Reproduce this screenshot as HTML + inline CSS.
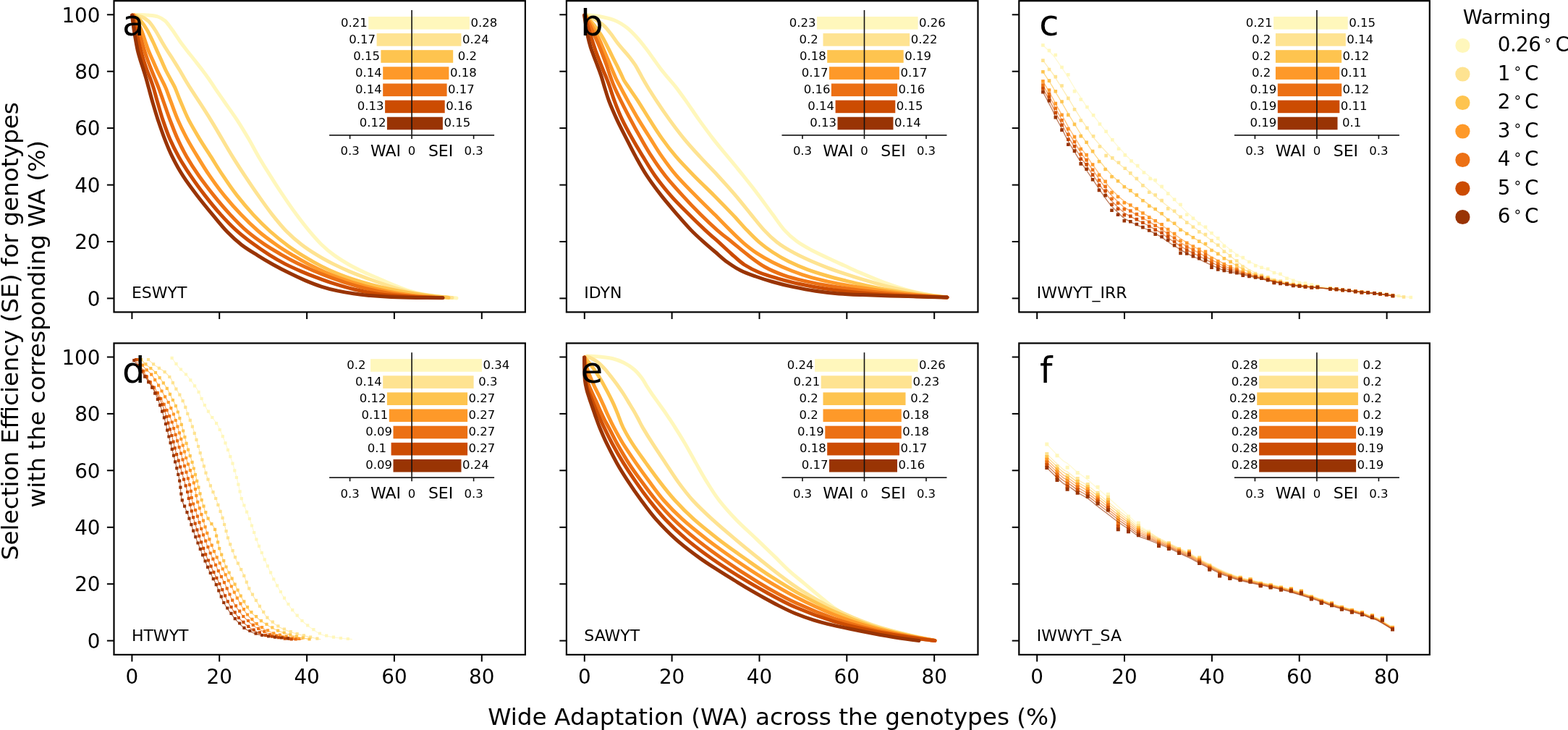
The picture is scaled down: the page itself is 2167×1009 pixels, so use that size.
<!DOCTYPE html>
<html><head><meta charset="utf-8"><title>Selection efficiency vs wide adaptation</title>
<style>html,body{margin:0;padding:0;background:#fff;overflow:hidden}svg{display:block}</style>
</head><body>
<svg width="2167" height="1009" viewBox="0 0 2167 1009" font-family="'DejaVu Sans', 'Liberation Sans', sans-serif">
<rect width="2167" height="1009" fill="#fff"/>
<g>
<clipPath id="cpa"><rect x="157.5" y="1.2" width="568.4" height="430.2"/></clipPath>
<g clip-path="url(#cpa)" fill="none" stroke-linejoin="round" stroke-linecap="round">
<path d="M189.9,20.5 C192.4,20.6 200.2,20.7 204.9,21.1 C209.6,21.5 214.2,21.7 218.1,23.0 C222.0,24.3 224.9,25.8 228.3,28.9 C231.6,32.0 234.7,36.9 238.2,41.6 C241.7,46.4 245.7,52.8 249.0,57.5 C252.4,62.2 255.2,65.8 258.4,70.0 C261.7,74.2 264.8,77.9 268.4,82.5 C272.0,87.1 276.6,92.9 280.1,97.5 C283.6,102.1 286.3,105.9 289.2,110.0 C292.0,114.1 293.7,116.9 297.1,121.9 C300.5,127.0 304.8,133.0 309.8,140.2 C314.8,147.4 321.7,156.8 327.3,165.4 C332.9,173.9 338.4,183.1 343.4,191.6 C348.4,200.1 352.3,207.9 357.3,216.4 C362.3,224.9 367.7,233.7 373.4,242.7 C379.0,251.7 385.3,261.4 391.4,270.4 C397.4,279.4 403.7,288.5 409.7,296.6 C415.7,304.7 421.6,312.4 427.3,319.2 C433.0,326.0 438.2,332.1 444.0,337.7 C449.8,343.3 455.5,348.2 462.0,352.9 C468.4,357.6 475.8,362.0 482.7,366.0 C489.6,369.9 497.0,373.4 503.5,376.5 C510.0,379.5 515.3,381.5 521.5,384.2 C527.7,386.9 533.0,389.6 540.6,392.6 C548.2,395.7 557.3,399.8 567.0,402.5 C576.7,405.3 588.3,407.6 599.0,409.1 C609.7,410.7 625.7,411.5 631.0,412.0" stroke="#fff7bc" stroke-width="5.0"/>
<path d="M188.0,21.0 C189.4,21.4 193.6,22.1 196.5,23.5 C199.4,24.9 202.5,26.5 205.5,29.6 C208.5,32.7 211.7,37.4 214.7,42.0 C217.7,46.6 220.9,52.8 223.6,57.5 C226.3,62.2 228.5,65.8 231.2,70.0 C233.8,74.2 236.4,77.9 239.3,82.5 C242.2,87.1 245.8,92.9 248.6,97.5 C251.3,102.1 253.4,105.9 255.8,110.0 C258.3,114.1 259.9,116.9 263.1,121.9 C266.3,127.0 270.3,133.0 275.0,140.2 C279.6,147.4 285.8,156.8 291.0,165.4 C296.3,173.9 301.6,183.1 306.6,191.6 C311.6,200.1 316.1,207.9 321.3,216.4 C326.6,224.9 332.3,233.7 338.2,242.7 C344.2,251.7 350.7,261.4 357.1,270.4 C363.4,279.4 369.8,288.5 376.2,296.6 C382.6,304.7 388.8,312.4 395.4,319.2 C402.1,326.0 409.1,332.1 416.3,337.7 C423.4,343.3 431.0,348.1 438.4,352.6 C445.8,357.2 453.2,361.1 460.6,364.9 C468.0,368.6 474.9,371.8 482.7,375.1 C490.6,378.4 498.7,381.5 507.6,384.8 C516.6,388.1 526.6,391.7 536.5,394.9 C546.4,398.0 556.8,401.3 567.0,403.6 C577.2,406.0 587.8,407.7 597.5,409.0 C607.2,410.3 620.4,411.1 625.0,411.5" stroke="#fee391" stroke-width="5.0"/>
<path d="M186.0,21.0 C187.3,22.2 191.1,24.8 194.0,28.2 C196.9,31.7 200.4,36.6 203.3,41.5 C206.2,46.4 209.0,52.8 211.3,57.5 C213.6,62.2 215.1,65.8 216.9,70.0 C218.8,74.2 220.5,77.9 222.6,82.5 C224.6,87.1 227.1,92.9 229.3,97.5 C231.6,102.1 233.8,105.9 235.9,110.0 C238.1,114.1 239.9,116.9 242.2,121.9 C244.4,127.0 246.4,133.0 249.5,140.2 C252.6,147.4 256.3,156.8 260.6,165.4 C265.0,173.9 270.5,183.1 275.6,191.6 C280.7,200.1 286.0,207.9 291.4,216.4 C296.8,224.9 302.0,233.7 308.1,242.7 C314.1,251.7 320.7,261.4 327.7,270.4 C334.7,279.4 342.3,288.3 349.9,296.6 C357.6,304.9 365.5,312.8 373.6,320.0 C381.7,327.2 390.3,334.0 398.3,339.9 C406.3,345.8 414.2,350.7 421.8,355.4 C429.4,360.1 436.6,364.1 444.0,367.9 C451.4,371.7 458.7,375.1 466.1,378.1 C473.5,381.2 480.7,383.7 488.3,386.1 C495.9,388.6 503.5,390.9 511.8,393.1 C520.0,395.3 528.6,397.4 537.9,399.4 C547.1,401.4 557.3,403.3 567.0,404.9 C576.7,406.6 587.4,408.0 596.2,409.1 C605.1,410.2 616.0,411.1 620.0,411.5" stroke="#fec44f" stroke-width="5.0"/>
<path d="M185.0,21.0 C186.6,24.2 192.1,34.2 194.8,40.2 C197.4,46.3 199.1,52.5 200.9,57.5 C202.6,62.5 203.6,65.8 205.2,70.0 C206.9,74.2 208.7,77.9 210.7,82.5 C212.7,87.1 215.2,92.9 217.3,97.5 C219.5,102.1 221.5,105.9 223.5,110.0 C225.5,114.1 227.1,116.9 229.2,121.9 C231.3,127.0 233.3,133.0 236.0,140.2 C238.8,147.4 241.9,156.8 245.7,165.4 C249.4,173.9 253.9,183.1 258.4,191.6 C263.0,200.1 267.7,207.9 272.9,216.4 C278.0,224.9 283.3,233.7 289.5,242.7 C295.7,251.7 302.7,261.4 310.0,270.4 C317.3,279.4 325.2,288.4 333.1,296.6 C340.9,304.8 348.9,312.5 357.0,319.5 C365.1,326.4 373.7,332.6 381.7,338.2 C389.7,343.9 397.6,348.6 405.2,353.2 C412.8,357.8 420.0,361.8 427.4,365.7 C434.8,369.5 442.1,373.0 449.5,376.2 C456.9,379.4 463.3,382.1 471.6,385.0 C479.9,388.0 488.7,391.0 499.3,393.9 C509.9,396.9 523.2,400.2 535.0,402.6 C546.7,405.0 558.7,406.9 569.5,408.3 C580.3,409.7 594.9,410.6 600.0,411.0" stroke="#fe9929" stroke-width="5.0"/>
<path d="M184.0,21.0 C185.1,24.2 188.7,34.2 190.7,40.2 C192.6,46.3 194.4,52.5 195.9,57.5 C197.4,62.5 198.3,65.8 199.6,70.0 C200.9,74.2 202.2,77.9 203.9,82.5 C205.5,87.1 207.8,92.9 209.6,97.5 C211.4,102.1 213.0,105.9 214.7,110.0 C216.3,114.1 217.5,116.9 219.4,121.9 C221.3,127.0 223.4,133.0 225.9,140.2 C228.5,147.4 231.6,156.8 234.8,165.4 C238.1,173.9 241.4,183.1 245.3,191.6 C249.1,200.1 253.0,207.9 257.9,216.4 C262.8,224.9 268.4,233.7 274.7,242.7 C281.0,251.7 288.4,261.4 295.6,270.4 C302.8,279.4 310.5,288.5 318.1,296.6 C325.7,304.7 333.1,312.4 340.9,319.2 C348.7,326.0 357.1,332.0 365.0,337.4 C373.0,342.9 381.0,347.4 388.6,351.8 C396.2,356.2 403.3,360.1 410.7,363.8 C418.1,367.4 425.5,370.8 432.9,374.0 C440.3,377.2 447.6,380.1 455.0,382.9 C462.4,385.6 469.1,388.1 477.2,390.6 C485.2,393.1 493.6,395.7 503.4,398.1 C513.3,400.5 525.3,403.2 536.3,405.1 C547.3,407.0 558.9,408.4 569.5,409.5 C580.1,410.5 594.9,411.2 600.0,411.5" stroke="#ec7014" stroke-width="5.0"/>
<path d="M183.0,21.0 C183.7,24.2 185.9,34.2 187.3,40.2 C188.7,46.3 190.3,52.5 191.5,57.5 C192.7,62.5 193.5,65.8 194.6,70.0 C195.7,74.2 196.8,77.9 198.2,82.5 C199.6,87.1 201.6,92.9 203.3,97.5 C205.0,102.1 206.7,105.9 208.2,110.0 C209.7,114.1 210.7,116.9 212.3,121.9 C213.8,127.0 215.3,133.0 217.4,140.2 C219.5,147.4 222.0,156.7 224.9,165.4 C227.8,174.0 231.0,183.4 234.7,192.1 C238.5,200.8 242.6,208.9 247.4,217.4 C252.2,225.9 257.6,234.4 263.6,243.2 C269.6,252.0 276.5,261.5 283.4,270.4 C290.3,279.3 297.8,288.6 305.1,296.6 C312.3,304.6 319.4,312.0 326.8,318.6 C334.2,325.3 341.7,331.0 349.3,336.6 C356.8,342.2 364.5,347.4 372.0,352.1 C379.5,356.8 386.7,361.0 394.1,364.9 C401.5,368.7 408.9,371.9 416.3,375.1 C423.7,378.3 430.8,381.1 438.4,383.9 C446.0,386.8 453.4,389.6 462.0,392.2 C470.5,394.9 480.4,397.8 489.7,400.0 C498.9,402.2 508.4,404.1 517.3,405.5 C526.2,407.0 533.5,407.8 543.1,408.6 C552.7,409.5 563.5,410.0 575.0,410.5 C586.5,411.0 605.8,411.3 612.0,411.5" stroke="#cc4c02" stroke-width="5.0"/>
<path d="M182.5,21.0 C182.9,24.2 184.1,34.2 185.0,40.2 C185.9,46.3 187.0,52.5 187.9,57.5 C188.8,62.5 189.4,65.8 190.3,70.0 C191.3,74.2 192.4,77.9 193.8,82.5 C195.2,87.1 197.2,92.9 198.6,97.5 C200.0,102.1 201.2,105.9 202.4,110.0 C203.5,114.1 204.2,116.9 205.6,121.9 C207.0,127.0 208.5,133.0 210.6,140.2 C212.7,147.4 215.4,156.8 218.2,165.4 C221.1,174.0 224.2,183.3 227.5,191.8 C230.8,200.4 234.0,208.4 238.2,216.9 C242.4,225.4 247.0,234.0 252.8,242.9 C258.5,251.9 265.7,261.4 272.6,270.4 C279.5,279.4 287.2,288.8 294.1,297.1 C301.1,305.5 307.5,313.6 314.1,320.5 C320.8,327.4 327.1,333.1 333.9,338.5 C340.8,343.8 348.1,348.1 355.4,352.6 C362.6,357.2 370.1,361.6 377.5,365.7 C384.9,369.8 392.3,373.7 399.7,377.3 C407.1,381.0 414.4,384.4 421.8,387.6 C429.2,390.7 436.6,393.7 444.0,396.1 C451.4,398.5 458.7,400.3 466.1,401.9 C473.5,403.5 480.7,404.7 488.3,405.8 C495.9,406.9 503.1,407.8 511.8,408.6 C520.5,409.4 529.8,410.0 540.4,410.4 C550.9,410.9 563.1,411.2 575.0,411.4 C586.9,411.6 605.8,411.7 612.0,411.8" stroke="#993404" stroke-width="5.0"/>
</g>
<rect x="509.2" y="23.0" width="139.7" height="17.6" fill="#fff7bc"/>
<text x="507.8" y="36.5" font-size="16.5" text-anchor="end">0.21</text>
<text x="650.4" y="36.5" font-size="16.5">0.28</text>
<rect x="520.6" y="46.1" width="116.9" height="17.6" fill="#fee391"/>
<text x="519.1" y="59.6" font-size="16.5" text-anchor="end">0.17</text>
<text x="639.0" y="59.6" font-size="16.5">0.24</text>
<rect x="526.4" y="69.2" width="99.8" height="17.6" fill="#fec44f"/>
<text x="524.9" y="82.7" font-size="16.5" text-anchor="end">0.15</text>
<text x="632.8" y="82.7" font-size="16.5">0.2</text>
<rect x="529.2" y="92.3" width="91.2" height="17.6" fill="#fe9929"/>
<text x="527.7" y="105.8" font-size="16.5" text-anchor="end">0.14</text>
<text x="621.9" y="105.8" font-size="16.5">0.18</text>
<rect x="529.2" y="115.5" width="88.4" height="17.6" fill="#ec7014"/>
<text x="527.7" y="129.0" font-size="16.5" text-anchor="end">0.14</text>
<text x="619.1" y="129.0" font-size="16.5">0.17</text>
<rect x="532.1" y="138.6" width="82.6" height="17.6" fill="#cc4c02"/>
<text x="530.6" y="152.1" font-size="16.5" text-anchor="end">0.13</text>
<text x="616.2" y="152.1" font-size="16.5">0.16</text>
<rect x="534.9" y="161.7" width="77.0" height="17.6" fill="#993404"/>
<text x="533.4" y="175.2" font-size="16.5" text-anchor="end">0.12</text>
<text x="613.4" y="175.2" font-size="16.5">0.15</text>
<line x1="569.1" y1="14.0" x2="569.1" y2="186.89999999999998" stroke="#111" stroke-width="1.6"/>
<line x1="455.1" y1="186.89999999999998" x2="683.1" y2="186.89999999999998" stroke="#222" stroke-width="1.6"/>
<line x1="483.6" y1="186.89999999999998" x2="483.6" y2="192.09999999999997" stroke="#111" stroke-width="1.6"/>
<text x="483.6" y="214.3" font-size="16.5" text-anchor="middle">0.3</text>
<line x1="569.1" y1="186.89999999999998" x2="569.1" y2="192.09999999999997" stroke="#111" stroke-width="1.6"/>
<text x="569.1" y="214.3" font-size="16.5" text-anchor="middle">0</text>
<line x1="654.6" y1="186.89999999999998" x2="654.6" y2="192.09999999999997" stroke="#111" stroke-width="1.6"/>
<text x="654.6" y="214.3" font-size="16.5" text-anchor="middle">0.3</text>
<text x="511.9" y="215.8" font-size="22">WAI</text>
<text x="591.9" y="215.8" font-size="22">SEI</text>
<text x="169" y="48.5" font-size="49.5">a</text>
<text x="181.9" y="412.4" font-size="22">ESWYT</text>
<rect x="157.5" y="1.2" width="568.4" height="430.2" fill="none" stroke="#000" stroke-width="2.2"/>
<line x1="147.9" y1="412.4" x2="157.5" y2="412.4" stroke="#000" stroke-width="2"/>
<text x="138.5" y="422.6" font-size="27.8" text-anchor="end">0</text>
<line x1="147.9" y1="334.0" x2="157.5" y2="334.0" stroke="#000" stroke-width="2"/>
<text x="138.5" y="344.2" font-size="27.8" text-anchor="end">20</text>
<line x1="147.9" y1="255.6" x2="157.5" y2="255.6" stroke="#000" stroke-width="2"/>
<text x="138.5" y="265.8" font-size="27.8" text-anchor="end">40</text>
<line x1="147.9" y1="177.1" x2="157.5" y2="177.1" stroke="#000" stroke-width="2"/>
<text x="138.5" y="187.3" font-size="27.8" text-anchor="end">60</text>
<line x1="147.9" y1="98.7" x2="157.5" y2="98.7" stroke="#000" stroke-width="2"/>
<text x="138.5" y="108.9" font-size="27.8" text-anchor="end">80</text>
<line x1="147.9" y1="20.3" x2="157.5" y2="20.3" stroke="#000" stroke-width="2"/>
<text x="138.5" y="30.5" font-size="27.8" text-anchor="end">100</text>
<line x1="182.4" y1="431.4" x2="182.4" y2="441.0" stroke="#000" stroke-width="2"/>
<line x1="303.2" y1="431.4" x2="303.2" y2="441.0" stroke="#000" stroke-width="2"/>
<line x1="424.1" y1="431.4" x2="424.1" y2="441.0" stroke="#000" stroke-width="2"/>
<line x1="544.9" y1="431.4" x2="544.9" y2="441.0" stroke="#000" stroke-width="2"/>
<line x1="665.8" y1="431.4" x2="665.8" y2="441.0" stroke="#000" stroke-width="2"/>
</g>
<g>
<clipPath id="cpb"><rect x="782.9" y="1.2" width="568.6" height="430.2"/></clipPath>
<g clip-path="url(#cpb)" fill="none" stroke-linejoin="round" stroke-linecap="round">
<path d="M810.0,20.5 C813.6,20.9 824.7,21.8 831.5,23.2 C838.4,24.5 845.0,26.2 850.9,28.8 C856.8,31.4 862.1,35.0 867.0,38.8 C871.8,42.6 876.1,47.3 880.2,51.8 C884.4,56.4 888.2,61.2 891.9,66.0 C895.6,70.7 899.0,75.6 902.4,80.4 C905.8,85.1 909.0,89.7 912.4,94.2 C915.8,98.7 919.2,102.7 922.9,107.2 C926.6,111.7 930.3,115.6 934.6,121.1 C938.8,126.6 943.2,132.7 948.5,140.1 C953.7,147.5 959.8,156.8 965.9,165.4 C972.1,174.0 978.7,183.1 985.3,191.6 C991.9,200.1 998.6,207.9 1005.6,216.4 C1012.6,224.9 1020.0,233.7 1027.2,242.7 C1034.4,251.7 1042.0,261.4 1048.8,270.4 C1055.6,279.4 1062.1,288.7 1068.0,296.6 C1073.9,304.5 1078.4,311.7 1083.9,317.8 C1089.4,323.9 1094.6,328.6 1100.9,333.3 C1107.2,338.0 1114.5,341.9 1121.6,345.8 C1128.8,349.6 1136.3,353.0 1143.8,356.5 C1151.2,360.0 1158.3,363.2 1166.2,366.8 C1174.1,370.3 1181.9,374.0 1191.1,377.9 C1200.2,381.8 1210.4,386.3 1221.0,390.1 C1231.7,394.0 1244.2,398.3 1255.0,401.2 C1265.8,404.2 1277.0,406.4 1286.0,408.0 C1295.0,409.6 1305.2,410.5 1309.0,411.0" stroke="#fff7bc" stroke-width="5.0"/>
<path d="M810.0,21.0 C812.3,22.1 819.9,25.4 824.1,27.9 C828.2,30.3 831.6,32.7 835.0,35.8 C838.4,39.0 841.3,43.0 844.3,46.8 C847.2,50.6 850.0,55.0 852.9,58.7 C855.7,62.4 858.6,65.6 861.4,69.0 C864.3,72.3 867.3,75.5 870.0,79.0 C872.7,82.4 875.4,86.2 877.8,89.7 C880.1,93.3 881.9,96.9 883.8,100.3 C885.7,103.7 887.0,106.5 889.1,110.1 C891.1,113.7 892.9,116.7 896.0,121.7 C899.2,126.7 902.9,132.8 907.8,140.1 C912.6,147.4 919.0,156.8 925.2,165.4 C931.4,174.0 938.2,183.1 945.2,191.6 C952.1,200.1 959.3,207.9 967.1,216.4 C974.9,224.9 983.8,233.7 992.1,242.7 C1000.3,251.7 1009.1,261.4 1016.7,270.4 C1024.4,279.4 1031.6,288.6 1038.1,296.6 C1044.6,304.6 1050.1,311.8 1056.0,318.1 C1061.8,324.4 1067.1,329.5 1073.5,334.4 C1079.8,339.3 1086.6,343.5 1094.0,347.7 C1101.3,351.9 1109.2,355.6 1117.5,359.3 C1125.8,363.1 1135.2,366.8 1143.8,370.1 C1152.4,373.4 1160.5,376.1 1169.0,378.9 C1177.5,381.8 1184.8,384.1 1195.0,387.1 C1205.1,390.1 1217.3,393.8 1229.8,396.8 C1242.3,399.8 1256.5,402.9 1269.8,405.2 C1283.0,407.6 1302.5,410.0 1309.0,411.0" stroke="#fee391" stroke-width="5.0"/>
<path d="M809.0,21.0 C811.0,23.3 817.6,30.3 821.3,35.0 C825.0,39.6 828.3,44.3 831.2,49.0 C834.1,53.6 836.4,58.3 838.7,62.9 C841.1,67.5 843.2,72.0 845.4,76.4 C847.6,80.8 850.0,85.4 852.0,89.4 C854.1,93.5 855.9,97.4 857.6,100.9 C859.3,104.4 860.1,106.9 862.0,110.4 C864.0,113.8 866.2,116.8 869.5,121.7 C872.8,126.7 877.3,132.8 882.0,140.1 C886.7,147.4 892.3,156.8 897.8,165.4 C903.3,174.0 908.9,183.1 915.0,191.6 C921.0,200.1 926.9,207.9 934.2,216.4 C941.5,224.9 950.1,233.7 958.9,242.7 C967.7,251.7 978.1,261.4 987.1,270.4 C996.1,279.4 1005.0,288.6 1012.6,296.6 C1020.2,304.6 1026.5,312.2 1032.7,318.6 C1038.9,325.1 1043.9,330.2 1049.7,335.2 C1055.5,340.2 1061.0,344.2 1067.7,348.5 C1074.4,352.9 1081.7,357.3 1089.8,361.3 C1097.9,365.3 1107.1,369.3 1116.1,372.6 C1125.1,376.0 1135.0,378.9 1143.8,381.5 C1152.6,384.1 1160.5,386.0 1169.0,388.1 C1177.5,390.2 1184.8,392.0 1195.0,394.2 C1205.1,396.4 1217.3,399.1 1229.8,401.3 C1242.3,403.4 1256.5,405.6 1269.8,407.2 C1283.0,408.9 1302.5,410.4 1309.0,411.0" stroke="#fec44f" stroke-width="5.0"/>
<path d="M809.0,21.0 C810.5,23.5 815.2,30.6 818.2,35.8 C821.2,40.9 824.3,46.6 826.9,52.0 C829.6,57.3 831.8,62.8 834.0,67.9 C836.2,72.9 838.1,77.6 840.1,82.3 C842.1,87.0 844.0,91.7 846.0,96.2 C847.9,100.7 849.5,104.7 851.5,109.0 C853.6,113.3 855.4,116.5 858.2,121.7 C860.9,126.9 864.1,132.8 868.1,140.1 C872.2,147.4 877.4,156.8 882.5,165.4 C887.7,174.0 893.5,183.1 898.9,191.6 C904.3,200.1 908.8,207.9 914.8,216.4 C920.8,224.9 927.0,233.7 934.8,242.7 C942.5,251.7 952.5,261.4 961.4,270.4 C970.2,279.4 979.7,288.6 987.7,296.6 C995.7,304.6 1002.8,312.1 1009.5,318.6 C1016.1,325.2 1021.5,330.6 1027.5,335.8 C1033.5,340.9 1038.8,345.2 1045.5,349.6 C1052.2,354.1 1059.6,358.3 1067.7,362.4 C1075.8,366.5 1085.0,370.7 1094.0,374.3 C1103.0,377.8 1111.9,380.9 1121.6,383.7 C1131.4,386.4 1141.0,388.6 1152.3,390.9 C1163.6,393.2 1176.5,395.4 1189.4,397.5 C1202.3,399.6 1216.4,401.7 1229.8,403.5 C1243.2,405.3 1256.5,406.8 1269.8,408.0 C1283.0,409.2 1302.5,410.5 1309.0,411.0" stroke="#fe9929" stroke-width="5.0"/>
<path d="M808.5,21.0 C809.7,23.5 813.1,30.8 815.4,35.8 C817.8,40.8 820.3,46.2 822.5,51.1 C824.8,56.1 826.9,60.8 828.8,65.4 C830.7,70.0 832.3,74.2 834.0,78.7 C835.7,83.2 837.4,87.7 839.0,92.2 C840.6,96.8 842.0,101.3 843.7,106.1 C845.4,110.8 846.8,115.1 849.3,120.8 C851.8,126.5 854.8,132.7 858.5,140.1 C862.2,147.5 866.9,156.8 871.5,165.4 C876.0,174.0 881.0,183.1 885.9,191.6 C890.8,200.1 895.1,207.9 900.7,216.4 C906.2,224.9 912.2,233.7 919.3,242.7 C926.4,251.7 935.2,261.4 943.4,270.4 C951.5,279.4 960.4,288.7 968.3,296.6 C976.2,304.5 983.7,311.5 990.9,317.8 C998.1,324.2 1004.7,329.0 1011.8,334.7 C1018.8,340.4 1025.6,346.4 1033.1,352.1 C1040.5,357.8 1048.3,364.0 1056.6,368.7 C1064.9,373.4 1073.7,377.1 1082.9,380.3 C1092.1,383.6 1101.3,385.9 1112.0,388.4 C1122.6,390.9 1134.2,393.2 1146.8,395.3 C1159.5,397.4 1174.2,399.5 1188.0,401.3 C1201.9,403.0 1216.2,404.5 1229.8,405.7 C1243.4,407.0 1256.5,407.9 1269.8,408.8 C1283.0,409.6 1302.5,410.6 1309.0,411.0" stroke="#ec7014" stroke-width="5.0"/>
<path d="M808.0,21.0 C808.7,23.6 810.8,30.9 812.4,36.3 C814.0,41.8 815.9,48.0 817.7,53.6 C819.5,59.3 821.4,65.1 823.2,70.4 C825.1,75.6 827.0,80.4 828.8,85.0 C830.6,89.7 832.4,94.0 834.0,98.1 C835.7,102.2 837.2,105.6 838.8,109.6 C840.3,113.5 841.5,116.6 843.2,121.7 C845.0,126.8 846.6,132.8 849.4,140.1 C852.1,147.4 855.8,156.8 859.9,165.4 C864.0,174.0 869.0,183.1 873.8,191.6 C878.5,200.1 883.3,207.9 888.5,216.4 C893.7,224.9 898.7,233.7 905.1,242.7 C911.5,251.7 919.1,261.4 927.0,270.4 C934.8,279.4 944.3,288.6 952.3,296.6 C960.2,304.6 967.7,311.7 974.6,318.1 C981.4,324.5 987.4,329.5 993.5,334.9 C999.5,340.4 1005.0,345.8 1010.9,351.0 C1016.8,356.2 1022.4,361.7 1028.9,366.0 C1035.4,370.2 1042.1,373.6 1049.7,376.8 C1057.3,379.9 1065.3,382.1 1074.6,384.8 C1083.8,387.4 1093.7,390.1 1105.0,392.5 C1116.4,395.0 1129.1,397.4 1142.7,399.4 C1156.3,401.5 1172.2,403.2 1186.7,404.6 C1201.2,406.0 1216.0,407.0 1229.8,407.8 C1243.6,408.7 1256.5,409.2 1269.8,409.8 C1283.0,410.3 1302.5,410.8 1309.0,411.0" stroke="#cc4c02" stroke-width="5.0"/>
<path d="M807.5,21.0 C807.9,23.5 809.1,30.8 809.9,35.8 C810.7,40.7 811.4,45.9 812.4,50.6 C813.4,55.3 814.5,59.4 815.8,63.7 C817.0,68.0 818.6,72.0 820.2,76.4 C821.8,80.8 823.7,85.3 825.4,90.0 C827.2,94.6 829.0,99.3 830.7,104.4 C832.4,109.4 833.6,114.3 835.4,120.2 C837.3,126.2 839.0,132.6 841.8,140.1 C844.7,147.6 848.7,156.8 852.6,165.4 C856.6,174.0 861.4,183.1 865.7,191.6 C870.0,200.1 873.8,207.9 878.5,216.4 C883.2,224.9 887.9,233.7 893.8,242.7 C899.7,251.7 907.0,261.4 914.0,270.4 C921.0,279.4 929.1,288.6 935.9,296.6 C942.8,304.6 949.1,311.8 955.1,318.1 C961.2,324.4 966.5,329.1 972.1,334.1 C977.7,339.2 983.2,343.8 988.8,348.5 C994.3,353.3 999.6,358.4 1005.4,362.6 C1011.2,366.8 1016.9,370.5 1023.4,373.7 C1029.8,377.0 1036.7,379.4 1044.1,382.0 C1051.5,384.7 1059.1,387.1 1067.7,389.5 C1076.2,391.9 1085.5,394.3 1095.4,396.4 C1105.3,398.5 1116.5,400.7 1127.2,402.2 C1137.9,403.8 1148.5,405.0 1159.3,405.9 C1170.1,406.7 1180.5,407.1 1192.2,407.6 C1204.0,408.1 1216.9,408.5 1229.8,408.9 C1242.7,409.3 1256.5,409.6 1269.8,410.0 C1283.0,410.4 1302.5,410.8 1309.0,411.0" stroke="#993404" stroke-width="5.0"/>
</g>
<rect x="1129.0" y="23.0" width="139.6" height="17.6" fill="#fff7bc"/>
<text x="1127.5" y="36.5" font-size="16.5" text-anchor="end">0.23</text>
<text x="1270.1" y="36.5" font-size="16.5">0.26</text>
<rect x="1137.5" y="46.1" width="119.7" height="17.6" fill="#fee391"/>
<text x="1130.8" y="59.6" font-size="16.5" text-anchor="end">0.2</text>
<text x="1258.7" y="59.6" font-size="16.5">0.22</text>
<rect x="1143.2" y="69.2" width="105.5" height="17.6" fill="#fec44f"/>
<text x="1141.7" y="82.7" font-size="16.5" text-anchor="end">0.18</text>
<text x="1250.2" y="82.7" font-size="16.5">0.19</text>
<rect x="1146.0" y="92.3" width="96.9" height="17.6" fill="#fe9929"/>
<text x="1144.5" y="105.8" font-size="16.5" text-anchor="end">0.17</text>
<text x="1244.5" y="105.8" font-size="16.5">0.17</text>
<rect x="1148.9" y="115.5" width="91.2" height="17.6" fill="#ec7014"/>
<text x="1147.4" y="129.0" font-size="16.5" text-anchor="end">0.16</text>
<text x="1241.6" y="129.0" font-size="16.5">0.16</text>
<rect x="1154.6" y="138.6" width="82.7" height="17.6" fill="#cc4c02"/>
<text x="1153.1" y="152.1" font-size="16.5" text-anchor="end">0.14</text>
<text x="1238.8" y="152.1" font-size="16.5">0.15</text>
<rect x="1157.5" y="161.7" width="77.0" height="17.6" fill="#993404"/>
<text x="1156.0" y="175.2" font-size="16.5" text-anchor="end">0.13</text>
<text x="1235.9" y="175.2" font-size="16.5">0.14</text>
<line x1="1194.5" y1="14.0" x2="1194.5" y2="186.89999999999998" stroke="#111" stroke-width="1.6"/>
<line x1="1080.5" y1="186.89999999999998" x2="1308.5" y2="186.89999999999998" stroke="#222" stroke-width="1.6"/>
<line x1="1109.0" y1="186.89999999999998" x2="1109.0" y2="192.09999999999997" stroke="#111" stroke-width="1.6"/>
<text x="1109.0" y="214.3" font-size="16.5" text-anchor="middle">0.3</text>
<line x1="1194.5" y1="186.89999999999998" x2="1194.5" y2="192.09999999999997" stroke="#111" stroke-width="1.6"/>
<text x="1194.5" y="214.3" font-size="16.5" text-anchor="middle">0</text>
<line x1="1280.0" y1="186.89999999999998" x2="1280.0" y2="192.09999999999997" stroke="#111" stroke-width="1.6"/>
<text x="1280.0" y="214.3" font-size="16.5" text-anchor="middle">0.3</text>
<text x="1137.3" y="215.8" font-size="22">WAI</text>
<text x="1217.3" y="215.8" font-size="22">SEI</text>
<text x="802.3" y="48.5" font-size="49.5">b</text>
<text x="807.3" y="412.4" font-size="22">IDYN</text>
<rect x="782.9" y="1.2" width="568.6" height="430.2" fill="none" stroke="#000" stroke-width="2.2"/>
<line x1="773.3" y1="412.4" x2="782.9" y2="412.4" stroke="#000" stroke-width="2"/>
<line x1="773.3" y1="334.0" x2="782.9" y2="334.0" stroke="#000" stroke-width="2"/>
<line x1="773.3" y1="255.6" x2="782.9" y2="255.6" stroke="#000" stroke-width="2"/>
<line x1="773.3" y1="177.1" x2="782.9" y2="177.1" stroke="#000" stroke-width="2"/>
<line x1="773.3" y1="98.7" x2="782.9" y2="98.7" stroke="#000" stroke-width="2"/>
<line x1="773.3" y1="20.3" x2="782.9" y2="20.3" stroke="#000" stroke-width="2"/>
<line x1="807.8" y1="431.4" x2="807.8" y2="441.0" stroke="#000" stroke-width="2"/>
<line x1="928.6" y1="431.4" x2="928.6" y2="441.0" stroke="#000" stroke-width="2"/>
<line x1="1049.5" y1="431.4" x2="1049.5" y2="441.0" stroke="#000" stroke-width="2"/>
<line x1="1170.3" y1="431.4" x2="1170.3" y2="441.0" stroke="#000" stroke-width="2"/>
<line x1="1291.2" y1="431.4" x2="1291.2" y2="441.0" stroke="#000" stroke-width="2"/>
</g>
<g>
<clipPath id="cpc"><rect x="1408.3" y="1.2" width="567.5" height="430.2"/></clipPath>
<g clip-path="url(#cpc)" fill="none" stroke-linejoin="round" stroke-linecap="round">
<path d="M1441.4,62.5 C1443.6,64.6 1451.5,72.3 1454.4,75.3 C1457.3,78.4 1456.6,77.9 1458.8,80.9 C1461.0,84.0 1464.6,89.3 1467.5,93.6 C1470.4,98.0 1473.3,102.5 1476.3,107.2 C1479.2,111.8 1482.1,116.9 1485.0,121.6 C1487.9,126.2 1490.8,130.3 1493.7,134.8 C1496.6,139.3 1499.5,144.3 1502.4,148.5 C1505.3,152.6 1508.2,155.9 1511.1,159.6 C1514.0,163.3 1517.0,167.0 1519.9,170.8 C1522.8,174.5 1525.7,178.5 1528.6,182.3 C1531.5,186.1 1534.4,189.8 1537.3,193.3 C1540.2,196.9 1543.1,200.2 1546.0,203.5 C1548.9,206.8 1551.9,209.9 1554.8,213.0 C1557.7,216.1 1560.6,219.2 1563.5,222.0 C1566.4,224.9 1569.4,227.8 1572.2,230.3 C1575.0,232.8 1577.8,234.9 1580.6,237.2 C1583.4,239.6 1586.2,241.8 1589.0,244.3 C1591.8,246.8 1594.6,249.5 1597.4,252.0 C1600.2,254.5 1603.0,257.0 1605.8,259.4 C1608.6,261.9 1611.4,263.8 1614.2,266.6 C1617.1,269.4 1620.0,273.1 1622.9,276.1 C1625.8,279.2 1628.7,282.1 1631.6,284.9 C1634.5,287.8 1637.3,290.6 1640.2,293.2 C1643.1,295.9 1645.9,298.3 1648.8,300.9 C1651.6,303.4 1654.5,306.4 1657.4,308.8 C1660.2,311.2 1663.1,312.9 1666.0,315.3 C1668.9,317.6 1671.7,320.4 1674.6,322.9 C1677.5,325.4 1680.4,327.8 1683.2,330.4 C1686.1,333.0 1689.0,335.8 1691.9,338.2 C1694.8,340.7 1697.7,342.8 1700.6,345.0 C1703.4,347.2 1706.3,349.5 1709.2,351.5 C1712.1,353.5 1715.0,355.3 1717.8,357.0 C1720.7,358.7 1723.6,360.2 1726.4,361.6 C1729.3,363.0 1732.1,364.1 1735.0,365.4 C1737.9,366.7 1740.7,368.3 1743.6,369.6 C1746.5,370.8 1749.4,371.8 1752.2,372.9 C1755.1,374.0 1758.0,375.2 1760.9,376.4 C1763.8,377.6 1766.7,378.8 1769.7,380.0 C1772.6,381.3 1775.5,382.8 1778.4,383.9 C1781.3,385.0 1784.1,385.8 1787.0,386.8 C1789.9,387.8 1792.8,388.9 1795.7,389.8 C1798.5,390.6 1801.0,391.2 1804.2,391.9 C1807.3,392.6 1811.0,393.3 1814.4,393.9 C1817.8,394.5 1821.2,394.9 1824.6,395.5 C1828.0,396.1 1831.5,396.7 1834.9,397.3 C1838.4,397.8 1841.8,398.4 1845.3,398.9 C1848.7,399.4 1852.5,399.9 1855.7,400.3 C1858.9,400.7 1861.6,401.0 1864.5,401.3 C1867.4,401.7 1870.3,402.0 1873.2,402.3 C1876.1,402.7 1879.0,402.9 1881.9,403.2 C1884.8,403.5 1887.7,403.8 1890.5,404.1 C1893.4,404.4 1896.3,404.7 1899.1,405.0 C1902.0,405.3 1904.9,405.6 1907.7,405.9 C1910.6,406.2 1913.1,406.6 1916.2,406.9 C1919.3,407.3 1923.8,407.8 1926.3,408.1 C1928.7,408.4 1927.1,408.2 1931.0,408.7 C1934.9,409.2 1946.7,410.6 1949.8,411.0" stroke="#fff7bc" stroke-width="1.3" stroke-opacity="0.65"/>
<path d="M1439.1,60.2h4.6v4.6h-4.6zM1447.7,67.6h4.6v4.6h-4.6zM1456.5,73.7h4.6v4.6h-4.6zM1465.2,90.7h4.6v4.6h-4.6zM1474.0,100.9h4.6v4.6h-4.6zM1482.7,123.8h4.6v4.6h-4.6zM1491.4,135.2h4.6v4.6h-4.6zM1500.1,145.7h4.6v4.6h-4.6zM1508.8,157.0h4.6v4.6h-4.6zM1517.6,169.2h4.6v4.6h-4.6zM1526.3,179.4h4.6v4.6h-4.6zM1535.0,191.0h4.6v4.6h-4.6zM1543.7,203.4h4.6v4.6h-4.6zM1552.5,212.1h4.6v4.6h-4.6zM1561.2,220.2h4.6v4.6h-4.6zM1569.9,226.8h4.6v4.6h-4.6zM1578.6,236.2h4.6v4.6h-4.6zM1587.3,244.7h4.6v4.6h-4.6zM1594.4,246.7h4.6v4.6h-4.6zM1603.3,255.6h4.6v4.6h-4.6zM1611.9,265.3h4.6v4.6h-4.6zM1620.8,273.4h4.6v4.6h-4.6zM1629.2,280.4h4.6v4.6h-4.6zM1637.9,294.5h4.6v4.6h-4.6zM1646.6,299.6h4.6v4.6h-4.6zM1655.0,306.8h4.6v4.6h-4.6zM1663.7,311.5h4.6v4.6h-4.6zM1672.2,319.9h4.6v4.6h-4.6zM1681.0,327.1h4.6v4.6h-4.6zM1689.5,337.8h4.6v4.6h-4.6zM1698.3,344.2h4.6v4.6h-4.6zM1707.0,350.7h4.6v4.6h-4.6zM1715.5,353.8h4.6v4.6h-4.6zM1724.1,359.7h4.6v4.6h-4.6zM1732.8,365.0h4.6v4.6h-4.6zM1741.2,367.5h4.6v4.6h-4.6zM1749.9,369.4h4.6v4.6h-4.6zM1758.6,374.7h4.6v4.6h-4.6zM1767.2,376.4h4.6v4.6h-4.6zM1776.2,382.5h4.6v4.6h-4.6zM1784.9,385.6h4.6v4.6h-4.6zM1793.6,388.7h4.6v4.6h-4.6zM1801.7,389.3h4.6v4.6h-4.6zM1810.5,391.2h4.6v4.6h-4.6zM1818.6,393.1h4.6v4.6h-4.6zM1836.0,395.7h4.6v4.6h-4.6zM1844.7,396.7h4.6v4.6h-4.6zM1853.4,398.2h4.6v4.6h-4.6zM1862.2,399.2h4.6v4.6h-4.6zM1870.9,400.2h4.6v4.6h-4.6zM1879.6,400.9h4.6v4.6h-4.6zM1888.3,401.7h4.6v4.6h-4.6zM1897.1,402.7h4.6v4.6h-4.6zM1905.2,403.5h4.6v4.6h-4.6zM1913.9,404.5h4.6v4.6h-4.6zM1922.6,405.7h4.6v4.6h-4.6zM1930.7,406.7h4.6v4.6h-4.6zM1947.5,408.7h4.6v4.6h-4.6z" fill="#fff7bc" stroke="none"/>
<path d="M1441.4,83.6 C1443.6,86.5 1451.5,97.0 1454.4,101.0 C1457.3,105.1 1456.6,104.6 1458.8,108.0 C1461.0,111.4 1464.6,116.9 1467.5,121.5 C1470.4,126.1 1473.3,130.9 1476.3,135.6 C1479.2,140.4 1482.1,145.1 1485.0,149.8 C1487.9,154.5 1490.8,159.2 1493.7,163.8 C1496.6,168.3 1499.5,172.7 1502.4,177.1 C1505.3,181.4 1508.2,186.0 1511.1,189.9 C1514.0,193.7 1517.0,196.9 1519.9,200.2 C1522.8,203.6 1525.7,206.7 1528.6,209.8 C1531.5,212.9 1534.5,216.0 1537.3,218.7 C1540.2,221.4 1543.0,223.8 1545.8,226.1 C1548.6,228.4 1551.4,230.1 1554.3,232.4 C1557.1,234.8 1559.9,237.4 1562.7,240.0 C1565.5,242.7 1568.3,245.7 1571.1,248.3 C1573.9,250.9 1576.7,253.1 1579.5,255.6 C1582.3,258.1 1585.3,260.5 1588.2,263.1 C1591.0,265.8 1593.9,268.9 1596.8,271.4 C1599.7,274.0 1602.7,276.2 1605.6,278.5 C1608.5,280.8 1611.3,282.9 1614.2,285.3 C1617.1,287.7 1620.0,290.4 1622.9,292.9 C1625.8,295.4 1628.7,297.9 1631.6,300.2 C1634.5,302.5 1637.3,304.5 1640.2,306.6 C1643.1,308.8 1645.9,310.9 1648.8,313.1 C1651.6,315.3 1654.5,317.6 1657.4,319.7 C1660.2,321.8 1663.1,323.8 1666.0,325.9 C1668.9,328.1 1671.7,330.5 1674.6,332.7 C1677.4,335.0 1680.3,337.0 1683.1,339.4 C1686.0,341.7 1688.9,344.2 1691.8,346.6 C1694.7,349.1 1697.5,351.4 1700.4,353.8 C1703.2,356.2 1706.1,358.8 1708.9,361.0 C1711.8,363.2 1714.7,365.2 1717.6,367.1 C1720.5,369.0 1723.4,370.8 1726.3,372.5 C1729.2,374.1 1732.0,375.6 1734.9,377.0 C1737.8,378.3 1740.7,379.6 1743.6,380.7 C1746.5,381.7 1749.4,382.5 1752.3,383.4 C1755.2,384.3 1758.1,385.2 1761.0,386.0 C1763.9,386.8 1766.9,387.6 1769.8,388.4 C1772.7,389.2 1775.6,390.0 1778.5,390.6 C1781.4,391.2 1784.2,391.7 1787.1,392.2 C1789.9,392.7 1792.8,393.3 1795.7,393.8 C1798.5,394.3 1801.0,394.6 1804.2,395.0 C1807.3,395.4 1811.0,395.8 1814.4,396.2 C1817.8,396.6 1821.2,396.9 1824.6,397.3 C1828.0,397.7 1831.5,398.1 1834.9,398.5 C1838.4,398.8 1841.8,399.2 1845.3,399.5 C1848.7,399.9 1852.5,400.3 1855.7,400.7 C1858.9,401.0 1861.6,401.3 1864.5,401.7 C1867.4,402.0 1870.3,402.3 1873.2,402.6 C1876.1,402.9 1879.0,403.2 1881.9,403.4 C1884.8,403.7 1887.7,404.0 1890.5,404.3 C1893.4,404.6 1896.3,404.8 1899.1,405.1 C1902.0,405.4 1904.6,405.8 1907.7,406.1 C1910.8,406.5 1915.2,407.1 1917.6,407.4 C1920.0,407.7 1918.4,407.5 1922.2,408.0 C1925.9,408.5 1937.0,410.1 1940.0,410.5" stroke="#fee391" stroke-width="1.3" stroke-opacity="0.65"/>
<path d="M1439.1,81.3h4.6v4.6h-4.6zM1447.7,93.7h4.6v4.6h-4.6zM1456.5,103.8h4.6v4.6h-4.6zM1465.2,116.2h4.6v4.6h-4.6zM1474.0,133.6h4.6v4.6h-4.6zM1482.7,148.9h4.6v4.6h-4.6zM1491.4,164.2h4.6v4.6h-4.6zM1500.1,174.6h4.6v4.6h-4.6zM1508.8,186.0h4.6v4.6h-4.6zM1517.6,200.2h4.6v4.6h-4.6zM1526.3,212.8h4.6v4.6h-4.6zM1535.0,216.1h4.6v4.6h-4.6zM1543.7,222.4h4.6v4.6h-4.6zM1552.5,230.5h4.6v4.6h-4.6zM1560.0,237.1h4.6v4.6h-4.6zM1568.6,244.6h4.6v4.6h-4.6zM1577.1,254.1h4.6v4.6h-4.6zM1585.9,263.5h4.6v4.6h-4.6zM1594.4,267.2h4.6v4.6h-4.6zM1603.3,274.8h4.6v4.6h-4.6zM1611.9,286.1h4.6v4.6h-4.6zM1620.8,289.4h4.6v4.6h-4.6zM1629.2,297.4h4.6v4.6h-4.6zM1637.9,305.3h4.6v4.6h-4.6zM1646.6,311.5h4.6v4.6h-4.6zM1655.0,318.1h4.6v4.6h-4.6zM1663.7,321.8h4.6v4.6h-4.6zM1672.2,330.3h4.6v4.6h-4.6zM1681.0,336.5h4.6v4.6h-4.6zM1689.5,345.4h4.6v4.6h-4.6zM1697.7,351.3h4.6v4.6h-4.6zM1707.0,358.2h4.6v4.6h-4.6zM1715.1,366.3h4.6v4.6h-4.6zM1723.9,372.5h4.6v4.6h-4.6zM1732.6,375.7h4.6v4.6h-4.6zM1741.3,378.2h4.6v4.6h-4.6zM1750.0,380.7h4.6v4.6h-4.6zM1758.7,384.7h4.6v4.6h-4.6zM1767.5,386.2h4.6v4.6h-4.6zM1776.2,388.7h4.6v4.6h-4.6zM1784.9,390.2h4.6v4.6h-4.6zM1793.6,391.7h4.6v4.6h-4.6zM1801.7,392.7h4.6v4.6h-4.6zM1810.5,394.2h4.6v4.6h-4.6zM1818.6,394.7h4.6v4.6h-4.6zM1836.0,396.2h4.6v4.6h-4.6zM1844.7,397.2h4.6v4.6h-4.6zM1853.4,398.5h4.6v4.6h-4.6zM1862.2,399.5h4.6v4.6h-4.6zM1870.9,400.4h4.6v4.6h-4.6zM1879.6,401.2h4.6v4.6h-4.6zM1888.3,401.8h4.6v4.6h-4.6zM1897.1,402.8h4.6v4.6h-4.6zM1905.2,403.7h4.6v4.6h-4.6zM1913.9,404.7h4.6v4.6h-4.6zM1922.6,406.2h4.6v4.6h-4.6zM1937.7,408.2h4.6v4.6h-4.6z" fill="#fee391" stroke="none"/>
<path d="M1441.4,99.3 C1443.6,102.6 1451.5,114.7 1454.4,119.4 C1457.3,124.1 1456.6,123.6 1458.8,127.3 C1461.0,131.0 1464.6,136.8 1467.5,141.8 C1470.4,146.8 1473.4,152.2 1476.3,157.1 C1479.1,162.0 1482.0,166.6 1484.8,171.2 C1487.7,175.9 1490.5,180.5 1493.3,184.9 C1496.2,189.4 1499.0,193.6 1501.9,197.8 C1504.7,202.0 1507.6,206.3 1510.4,210.2 C1513.2,214.2 1516.1,217.8 1519.0,221.5 C1521.8,225.1 1524.7,228.7 1527.6,232.2 C1530.5,235.6 1533.5,239.0 1536.4,242.0 C1539.3,245.0 1542.2,247.5 1545.0,250.0 C1547.9,252.6 1550.8,254.9 1553.7,257.2 C1556.6,259.5 1559.4,261.5 1562.3,263.7 C1565.2,266.0 1568.1,268.5 1570.9,270.7 C1573.8,272.8 1576.6,274.7 1579.5,276.8 C1582.4,278.9 1585.3,280.9 1588.2,283.1 C1591.0,285.3 1593.9,287.8 1596.8,290.0 C1599.7,292.2 1602.7,294.2 1605.6,296.3 C1608.5,298.5 1611.3,300.7 1614.2,302.9 C1617.1,305.2 1620.0,307.5 1622.9,309.8 C1625.8,312.0 1628.7,314.3 1631.6,316.4 C1634.5,318.5 1637.3,320.4 1640.2,322.3 C1643.1,324.2 1645.9,326.1 1648.8,328.0 C1651.6,329.8 1654.5,331.7 1657.4,333.6 C1660.2,335.5 1663.1,337.3 1666.0,339.2 C1668.9,341.1 1671.7,343.0 1674.6,344.9 C1677.5,346.8 1680.4,348.7 1683.2,350.6 C1686.1,352.5 1689.0,354.6 1691.9,356.5 C1694.8,358.4 1697.7,360.1 1700.6,361.9 C1703.4,363.7 1706.3,365.6 1709.2,367.2 C1712.1,368.9 1715.0,370.4 1717.8,371.8 C1720.7,373.2 1723.6,374.5 1726.4,375.8 C1729.3,377.1 1732.1,378.3 1735.0,379.4 C1737.9,380.5 1740.7,381.5 1743.6,382.5 C1746.5,383.4 1749.4,384.1 1752.2,384.9 C1755.1,385.7 1758.0,386.5 1760.9,387.3 C1763.8,388.0 1766.7,388.8 1769.7,389.5 C1772.6,390.3 1775.5,391.0 1778.4,391.6 C1781.3,392.1 1784.1,392.5 1787.0,393.0 C1789.9,393.5 1792.8,394.0 1795.7,394.4 C1798.5,394.8 1801.0,395.1 1804.2,395.5 C1807.3,395.8 1811.0,396.2 1814.4,396.6 C1817.8,396.9 1821.2,397.2 1824.6,397.6 C1828.0,397.9 1831.5,398.3 1834.9,398.7 C1838.4,399.0 1841.8,399.3 1845.3,399.6 C1848.7,400.0 1852.5,400.4 1855.7,400.8 C1858.9,401.2 1861.6,401.5 1864.5,401.8 C1867.4,402.1 1870.3,402.4 1873.2,402.7 C1876.1,403.0 1879.0,403.3 1881.9,403.6 C1884.8,403.9 1887.7,404.1 1890.5,404.4 C1893.4,404.7 1896.3,405.0 1899.1,405.3 C1902.0,405.6 1905.6,406.0 1907.7,406.3 C1909.9,406.5 1909.1,406.4 1912.0,406.8 C1914.9,407.2 1922.8,408.4 1924.9,408.7" stroke="#fec44f" stroke-width="1.3" stroke-opacity="0.65"/>
<path d="M1439.1,97.0h4.6v4.6h-4.6zM1447.7,109.3h4.6v4.6h-4.6zM1456.5,124.0h4.6v4.6h-4.6zM1465.2,138.2h4.6v4.6h-4.6zM1474.0,156.6h4.6v4.6h-4.6zM1482.7,169.6h4.6v4.6h-4.6zM1491.4,185.8h4.6v4.6h-4.6zM1499.3,194.5h4.6v4.6h-4.6zM1507.8,206.8h4.6v4.6h-4.6zM1516.7,221.0h4.6v4.6h-4.6zM1525.3,231.7h4.6v4.6h-4.6zM1534.2,242.0h4.6v4.6h-4.6zM1542.7,247.9h4.6v4.6h-4.6zM1551.5,256.0h4.6v4.6h-4.6zM1560.0,261.1h4.6v4.6h-4.6zM1568.6,267.3h4.6v4.6h-4.6zM1577.1,274.9h4.6v4.6h-4.6zM1585.9,282.5h4.6v4.6h-4.6zM1594.4,286.7h4.6v4.6h-4.6zM1603.3,292.9h4.6v4.6h-4.6zM1611.9,301.7h4.6v4.6h-4.6zM1620.8,306.5h4.6v4.6h-4.6zM1629.2,315.5h4.6v4.6h-4.6zM1637.9,320.7h4.6v4.6h-4.6zM1646.6,326.0h4.6v4.6h-4.6zM1655.0,331.3h4.6v4.6h-4.6zM1663.7,334.7h4.6v4.6h-4.6zM1672.2,343.7h4.6v4.6h-4.6zM1681.0,348.6h4.6v4.6h-4.6zM1689.5,354.9h4.6v4.6h-4.6zM1698.3,359.6h4.6v4.6h-4.6zM1707.0,364.2h4.6v4.6h-4.6zM1715.5,370.8h4.6v4.6h-4.6zM1724.1,375.1h4.6v4.6h-4.6zM1732.8,377.7h4.6v4.6h-4.6zM1741.2,379.7h4.6v4.6h-4.6zM1749.9,382.2h4.6v4.6h-4.6zM1758.6,386.1h4.6v4.6h-4.6zM1767.2,387.4h4.6v4.6h-4.6zM1776.2,389.4h4.6v4.6h-4.6zM1784.9,391.1h4.6v4.6h-4.6zM1793.6,392.2h4.6v4.6h-4.6zM1801.7,393.2h4.6v4.6h-4.6zM1810.5,394.6h4.6v4.6h-4.6zM1818.6,394.7h4.6v4.6h-4.6zM1836.0,396.6h4.6v4.6h-4.6zM1844.7,397.4h4.6v4.6h-4.6zM1853.4,398.6h4.6v4.6h-4.6zM1862.2,399.5h4.6v4.6h-4.6zM1870.9,400.5h4.6v4.6h-4.6zM1879.6,401.5h4.6v4.6h-4.6zM1888.3,401.9h4.6v4.6h-4.6zM1897.1,402.9h4.6v4.6h-4.6zM1905.2,403.8h4.6v4.6h-4.6zM1913.9,404.8h4.6v4.6h-4.6zM1922.6,406.4h4.6v4.6h-4.6z" fill="#fec44f" stroke="none"/>
<path d="M1441.4,112.4 C1443.6,116.1 1451.5,129.5 1454.4,134.7 C1457.3,139.9 1456.6,139.4 1458.8,143.4 C1461.0,147.4 1464.6,153.4 1467.5,158.7 C1470.4,164.0 1473.4,169.9 1476.3,175.0 C1479.1,180.1 1482.0,184.6 1484.8,189.2 C1487.7,193.9 1490.5,198.5 1493.3,203.0 C1496.2,207.4 1499.0,211.5 1501.9,215.7 C1504.7,219.9 1507.6,224.0 1510.4,228.1 C1513.2,232.1 1516.1,236.2 1519.0,240.1 C1521.8,244.0 1524.7,248.0 1527.6,251.7 C1530.5,255.4 1533.5,259.1 1536.4,262.2 C1539.3,265.4 1542.2,267.9 1545.0,270.6 C1547.9,273.2 1550.8,275.9 1553.7,278.1 C1556.6,280.3 1559.4,281.9 1562.3,283.8 C1565.2,285.7 1568.1,287.7 1570.9,289.5 C1573.8,291.3 1576.6,292.7 1579.5,294.5 C1582.4,296.2 1585.3,298.0 1588.2,299.8 C1591.0,301.6 1593.9,303.6 1596.8,305.5 C1599.7,307.4 1602.7,309.2 1605.6,311.2 C1608.5,313.2 1611.3,315.6 1614.2,317.7 C1617.1,319.8 1620.0,321.8 1622.9,323.8 C1625.8,325.8 1628.7,327.9 1631.6,329.8 C1634.5,331.8 1637.3,333.6 1640.2,335.4 C1643.1,337.1 1645.9,338.7 1648.8,340.3 C1651.6,341.9 1654.5,343.5 1657.4,345.2 C1660.2,346.8 1663.1,348.5 1666.0,350.2 C1668.9,351.8 1671.7,353.5 1674.6,355.1 C1677.5,356.7 1680.4,358.3 1683.2,359.9 C1686.1,361.5 1689.0,363.2 1691.9,364.6 C1694.8,366.1 1697.7,367.3 1700.6,368.5 C1703.4,369.8 1706.3,371.1 1709.2,372.2 C1712.1,373.4 1715.0,374.5 1717.8,375.5 C1720.7,376.6 1723.6,377.5 1726.4,378.5 C1729.3,379.5 1732.1,380.4 1735.0,381.3 C1737.9,382.3 1740.7,383.1 1743.6,383.9 C1746.5,384.8 1749.4,385.5 1752.2,386.2 C1755.1,386.9 1758.0,387.6 1760.9,388.3 C1763.8,389.1 1766.7,389.8 1769.7,390.5 C1772.6,391.2 1775.5,391.8 1778.4,392.4 C1781.3,392.9 1784.1,393.2 1787.0,393.6 C1789.9,394.1 1792.8,394.6 1795.7,394.9 C1798.5,395.3 1801.0,395.5 1804.2,395.9 C1807.3,396.2 1811.0,396.5 1814.4,396.9 C1817.8,397.2 1821.2,397.5 1824.6,397.8 C1828.0,398.2 1831.5,398.5 1834.9,398.8 C1838.4,399.1 1841.8,399.4 1845.3,399.7 C1848.7,400.1 1852.5,400.6 1855.7,400.9 C1858.9,401.3 1861.6,401.6 1864.5,401.9 C1867.4,402.2 1870.3,402.5 1873.2,402.8 C1876.1,403.1 1879.0,403.4 1881.9,403.7 C1884.8,404.0 1887.7,404.3 1890.5,404.5 C1893.4,404.8 1896.3,405.1 1899.1,405.4 C1902.0,405.7 1905.6,406.1 1907.7,406.4 C1909.9,406.6 1909.1,406.5 1912.0,406.9 C1914.9,407.3 1922.8,408.5 1924.9,408.8" stroke="#fe9929" stroke-width="1.3" stroke-opacity="0.65"/>
<path d="M1439.1,110.1h4.6v4.6h-4.6zM1447.7,122.2h4.6v4.6h-4.6zM1456.5,140.8h4.6v4.6h-4.6zM1465.2,156.5h4.6v4.6h-4.6zM1474.0,175.8h4.6v4.6h-4.6zM1482.7,186.8h4.6v4.6h-4.6zM1491.4,203.7h4.6v4.6h-4.6zM1499.3,211.8h4.6v4.6h-4.6zM1507.8,225.2h4.6v4.6h-4.6zM1516.7,239.6h4.6v4.6h-4.6zM1525.3,248.6h4.6v4.6h-4.6zM1534.2,263.8h4.6v4.6h-4.6zM1542.7,269.7h4.6v4.6h-4.6zM1551.5,278.0h4.6v4.6h-4.6zM1560.0,281.2h4.6v4.6h-4.6zM1568.6,286.2h4.6v4.6h-4.6zM1577.1,292.2h4.6v4.6h-4.6zM1585.9,298.3h4.6v4.6h-4.6zM1594.4,302.9h4.6v4.6h-4.6zM1603.3,307.9h4.6v4.6h-4.6zM1611.9,314.7h4.6v4.6h-4.6zM1620.8,320.8h4.6v4.6h-4.6zM1629.2,330.5h4.6v4.6h-4.6zM1637.9,333.6h4.6v4.6h-4.6zM1646.6,338.2h4.6v4.6h-4.6zM1655.0,342.3h4.6v4.6h-4.6zM1663.7,345.4h4.6v4.6h-4.6zM1672.2,354.8h4.6v4.6h-4.6zM1681.0,358.7h4.6v4.6h-4.6zM1689.5,362.8h4.6v4.6h-4.6zM1698.3,366.2h4.6v4.6h-4.6zM1707.0,369.2h4.6v4.6h-4.6zM1715.5,374.3h4.6v4.6h-4.6zM1724.1,377.2h4.6v4.6h-4.6zM1732.8,379.3h4.6v4.6h-4.6zM1741.2,381.0h4.6v4.6h-4.6zM1749.9,383.5h4.6v4.6h-4.6zM1758.6,387.3h4.6v4.6h-4.6zM1767.2,388.4h4.6v4.6h-4.6zM1776.2,390.0h4.6v4.6h-4.6zM1784.9,391.8h4.6v4.6h-4.6zM1793.6,392.7h4.6v4.6h-4.6zM1801.7,393.7h4.6v4.6h-4.6zM1810.5,394.9h4.6v4.6h-4.6zM1818.6,394.7h4.6v4.6h-4.6zM1836.0,396.9h4.6v4.6h-4.6zM1844.7,397.5h4.6v4.6h-4.6zM1853.4,398.6h4.6v4.6h-4.6zM1862.2,399.5h4.6v4.6h-4.6zM1870.9,400.6h4.6v4.6h-4.6zM1879.6,401.7h4.6v4.6h-4.6zM1888.3,402.1h4.6v4.6h-4.6zM1897.1,403.1h4.6v4.6h-4.6zM1905.2,403.8h4.6v4.6h-4.6zM1913.9,404.9h4.6v4.6h-4.6zM1922.6,406.5h4.6v4.6h-4.6z" fill="#fe9929" stroke="none"/>
<path d="M1441.4,117.6 C1443.6,121.5 1451.5,135.4 1454.4,140.8 C1457.3,146.2 1456.6,145.7 1458.8,149.8 C1461.0,153.9 1464.6,160.1 1467.5,165.5 C1470.4,170.9 1473.4,177.0 1476.3,182.2 C1479.1,187.3 1482.0,191.8 1484.8,196.4 C1487.7,201.1 1490.5,205.8 1493.3,210.2 C1496.2,214.6 1499.0,218.7 1501.9,222.9 C1504.7,227.0 1507.6,231.1 1510.4,235.2 C1513.2,239.3 1516.1,243.5 1519.0,247.5 C1521.8,251.6 1524.7,255.7 1527.6,259.5 C1530.5,263.3 1533.5,267.1 1536.4,270.3 C1539.3,273.6 1542.2,276.1 1545.0,278.8 C1547.9,281.5 1550.8,284.3 1553.7,286.5 C1556.6,288.6 1559.4,290.0 1562.3,291.8 C1565.2,293.5 1568.1,295.4 1570.9,297.0 C1573.8,298.6 1576.6,299.9 1579.5,301.5 C1582.4,303.1 1585.3,304.8 1588.2,306.5 C1591.0,308.2 1593.9,309.9 1596.8,311.7 C1599.7,313.5 1602.7,315.2 1605.6,317.2 C1608.5,319.1 1611.3,321.5 1614.2,323.5 C1617.1,325.6 1620.0,327.5 1622.9,329.4 C1625.8,331.4 1628.7,333.4 1631.6,335.2 C1634.5,337.1 1637.3,338.9 1640.2,340.6 C1643.1,342.3 1645.9,343.7 1648.8,345.3 C1651.6,346.8 1654.5,348.2 1657.4,349.8 C1660.2,351.3 1663.1,353.0 1666.0,354.6 C1668.9,356.2 1671.7,357.7 1674.6,359.2 C1677.5,360.7 1680.4,362.1 1683.2,363.6 C1686.1,365.0 1689.0,366.6 1691.9,367.9 C1694.8,369.2 1697.7,370.1 1700.6,371.2 C1703.4,372.2 1706.3,373.3 1709.2,374.2 C1712.1,375.2 1715.0,376.2 1717.8,377.0 C1720.7,377.9 1723.6,378.7 1726.4,379.6 C1729.3,380.4 1732.1,381.3 1735.0,382.1 C1737.9,383.0 1740.7,383.8 1743.6,384.5 C1746.5,385.3 1749.4,386.0 1752.2,386.7 C1755.1,387.4 1758.0,388.1 1760.9,388.8 C1763.8,389.5 1766.7,390.3 1769.7,390.9 C1772.6,391.6 1775.5,392.2 1778.4,392.7 C1781.3,393.2 1784.1,393.5 1787.0,393.9 C1789.9,394.3 1792.8,394.8 1795.7,395.1 C1798.5,395.5 1801.0,395.7 1804.2,396.0 C1807.3,396.3 1811.0,396.7 1814.4,397.0 C1817.8,397.3 1821.2,397.6 1824.6,397.9 C1828.0,398.2 1831.5,398.6 1834.9,398.9 C1838.4,399.2 1841.8,399.4 1845.3,399.8 C1848.7,400.1 1852.5,400.6 1855.7,401.0 C1858.9,401.3 1861.6,401.6 1864.5,401.9 C1867.4,402.2 1870.3,402.5 1873.2,402.8 C1876.1,403.1 1879.0,403.4 1881.9,403.7 C1884.8,404.0 1887.7,404.3 1890.5,404.6 C1893.4,404.9 1896.3,405.1 1899.1,405.5 C1902.0,405.8 1905.6,406.2 1907.7,406.4 C1909.9,406.7 1909.1,406.5 1912.0,406.9 C1914.9,407.3 1922.8,408.6 1924.9,408.9" stroke="#ec7014" stroke-width="1.3" stroke-opacity="0.65"/>
<path d="M1439.1,115.3h4.6v4.6h-4.6zM1447.7,127.4h4.6v4.6h-4.6zM1456.5,147.5h4.6v4.6h-4.6zM1465.2,163.9h4.6v4.6h-4.6zM1474.0,183.4h4.6v4.6h-4.6zM1482.7,193.7h4.6v4.6h-4.6zM1491.4,210.9h4.6v4.6h-4.6zM1499.3,218.8h4.6v4.6h-4.6zM1507.8,232.5h4.6v4.6h-4.6zM1516.7,247.0h4.6v4.6h-4.6zM1525.3,255.4h4.6v4.6h-4.6zM1534.2,272.5h4.6v4.6h-4.6zM1542.7,278.5h4.6v4.6h-4.6zM1551.5,286.8h4.6v4.6h-4.6zM1560.0,289.2h4.6v4.6h-4.6zM1568.6,293.8h4.6v4.6h-4.6zM1577.1,299.1h4.6v4.6h-4.6zM1585.9,304.6h4.6v4.6h-4.6zM1594.4,309.4h4.6v4.6h-4.6zM1603.3,314.0h4.6v4.6h-4.6zM1611.9,319.9h4.6v4.6h-4.6zM1620.8,326.4h4.6v4.6h-4.6zM1629.2,336.6h4.6v4.6h-4.6zM1637.9,338.8h4.6v4.6h-4.6zM1646.6,343.0h4.6v4.6h-4.6zM1655.0,346.7h4.6v4.6h-4.6zM1663.7,349.7h4.6v4.6h-4.6zM1672.2,359.2h4.6v4.6h-4.6zM1681.0,362.8h4.6v4.6h-4.6zM1689.5,365.9h4.6v4.6h-4.6zM1698.3,368.8h4.6v4.6h-4.6zM1707.0,371.2h4.6v4.6h-4.6zM1715.5,375.7h4.6v4.6h-4.6zM1724.1,378.1h4.6v4.6h-4.6zM1732.8,379.9h4.6v4.6h-4.6zM1741.2,381.5h4.6v4.6h-4.6zM1749.9,384.0h4.6v4.6h-4.6zM1758.6,387.8h4.6v4.6h-4.6zM1767.2,388.8h4.6v4.6h-4.6zM1776.2,390.3h4.6v4.6h-4.6zM1784.9,392.2h4.6v4.6h-4.6zM1793.6,392.9h4.6v4.6h-4.6zM1801.7,393.9h4.6v4.6h-4.6zM1810.5,395.0h4.6v4.6h-4.6zM1818.6,394.7h4.6v4.6h-4.6zM1836.0,397.0h4.6v4.6h-4.6zM1844.7,397.6h4.6v4.6h-4.6zM1853.4,398.7h4.6v4.6h-4.6zM1862.2,399.5h4.6v4.6h-4.6zM1870.9,400.6h4.6v4.6h-4.6zM1879.6,401.7h4.6v4.6h-4.6zM1888.3,402.1h4.6v4.6h-4.6zM1897.1,403.1h4.6v4.6h-4.6zM1905.2,403.9h4.6v4.6h-4.6zM1913.9,404.9h4.6v4.6h-4.6zM1922.6,406.6h4.6v4.6h-4.6z" fill="#ec7014" stroke="none"/>
<path d="M1441.4,122.4 C1443.6,126.4 1451.5,140.9 1454.4,146.4 C1457.3,152.0 1456.6,151.5 1458.8,155.7 C1461.0,159.9 1464.6,166.2 1467.5,171.7 C1470.4,177.2 1473.4,183.5 1476.3,188.7 C1479.1,194.0 1482.0,198.4 1484.8,203.0 C1487.7,207.7 1490.5,212.4 1493.3,216.8 C1496.2,221.2 1499.0,225.3 1501.9,229.4 C1504.7,233.6 1507.6,237.6 1510.4,241.8 C1513.2,245.9 1516.1,250.2 1519.0,254.4 C1521.8,258.5 1524.7,262.7 1527.6,266.6 C1530.5,270.5 1533.5,274.5 1536.4,277.8 C1539.3,281.0 1542.2,283.6 1545.0,286.3 C1547.9,289.0 1550.8,292.0 1553.7,294.1 C1556.6,296.3 1559.4,297.5 1562.3,299.1 C1565.2,300.8 1568.1,302.4 1570.9,303.9 C1573.8,305.4 1576.6,306.6 1579.5,308.0 C1582.4,309.4 1585.3,311.0 1588.2,312.6 C1591.0,314.1 1593.9,315.7 1596.8,317.4 C1599.7,319.0 1602.7,320.7 1605.6,322.6 C1608.5,324.5 1611.3,326.9 1614.2,328.9 C1617.1,330.9 1620.0,332.7 1622.9,334.6 C1625.8,336.4 1628.7,338.4 1631.6,340.2 C1634.5,342.0 1637.3,343.8 1640.2,345.4 C1643.1,347.0 1645.9,348.3 1648.8,349.8 C1651.6,351.2 1654.5,352.6 1657.4,354.0 C1660.2,355.5 1663.1,357.2 1666.0,358.6 C1668.9,360.1 1671.7,361.5 1674.6,362.9 C1677.5,364.3 1680.4,365.7 1683.2,367.0 C1686.1,368.3 1689.0,369.8 1691.9,370.9 C1694.8,372.0 1697.7,372.7 1700.6,373.6 C1703.4,374.5 1706.3,375.3 1709.2,376.1 C1712.1,376.9 1715.0,377.7 1717.8,378.4 C1720.7,379.2 1723.6,379.8 1726.4,380.6 C1729.3,381.3 1732.1,382.1 1735.0,382.8 C1737.9,383.6 1740.7,384.4 1743.6,385.1 C1746.5,385.8 1749.4,386.5 1752.2,387.2 C1755.1,387.9 1758.0,388.5 1760.9,389.2 C1763.8,389.8 1766.7,390.6 1769.7,391.3 C1772.6,391.9 1775.5,392.5 1778.4,393.0 C1781.3,393.5 1784.1,393.8 1787.0,394.1 C1789.9,394.5 1792.8,395.0 1795.7,395.3 C1798.5,395.6 1801.0,395.9 1804.2,396.2 C1807.3,396.5 1811.0,396.8 1814.4,397.1 C1817.8,397.4 1821.2,397.7 1824.6,398.0 C1828.0,398.3 1831.5,398.6 1834.9,398.9 C1838.4,399.2 1841.8,399.5 1845.3,399.8 C1848.7,400.2 1852.5,400.7 1855.7,401.0 C1858.9,401.4 1861.6,401.7 1864.5,402.0 C1867.4,402.3 1870.3,402.6 1873.2,402.9 C1876.1,403.2 1879.0,403.5 1881.9,403.8 C1884.8,404.1 1887.7,404.3 1890.5,404.6 C1893.4,404.9 1896.3,405.2 1899.1,405.5 C1902.0,405.8 1905.6,406.2 1907.7,406.5 C1909.9,406.7 1909.1,406.5 1912.0,407.0 C1914.9,407.4 1922.8,408.6 1924.9,408.9" stroke="#cc4c02" stroke-width="1.3" stroke-opacity="0.65"/>
<path d="M1439.1,120.1h4.6v4.6h-4.6zM1447.7,132.1h4.6v4.6h-4.6zM1456.5,153.6h4.6v4.6h-4.6zM1465.2,170.6h4.6v4.6h-4.6zM1474.0,190.5h4.6v4.6h-4.6zM1482.7,200.0h4.6v4.6h-4.6zM1491.4,217.5h4.6v4.6h-4.6zM1499.3,225.1h4.6v4.6h-4.6zM1507.8,239.3h4.6v4.6h-4.6zM1516.7,253.8h4.6v4.6h-4.6zM1525.3,261.6h4.6v4.6h-4.6zM1534.2,280.5h4.6v4.6h-4.6zM1542.7,286.5h4.6v4.6h-4.6zM1551.5,294.9h4.6v4.6h-4.6zM1560.0,296.6h4.6v4.6h-4.6zM1568.6,300.8h4.6v4.6h-4.6zM1577.1,305.5h4.6v4.6h-4.6zM1585.9,310.4h4.6v4.6h-4.6zM1594.4,315.3h4.6v4.6h-4.6zM1603.3,319.5h4.6v4.6h-4.6zM1611.9,324.6h4.6v4.6h-4.6zM1620.8,331.7h4.6v4.6h-4.6zM1629.2,342.1h4.6v4.6h-4.6zM1637.9,343.5h4.6v4.6h-4.6zM1646.6,347.5h4.6v4.6h-4.6zM1655.0,350.8h4.6v4.6h-4.6zM1663.7,353.7h4.6v4.6h-4.6zM1672.2,363.3h4.6v4.6h-4.6zM1681.0,366.5h4.6v4.6h-4.6zM1689.5,368.8h4.6v4.6h-4.6zM1698.3,371.2h4.6v4.6h-4.6zM1707.0,373.1h4.6v4.6h-4.6zM1715.5,377.0h4.6v4.6h-4.6zM1724.1,378.8h4.6v4.6h-4.6zM1732.8,380.5h4.6v4.6h-4.6zM1741.2,381.9h4.6v4.6h-4.6zM1749.9,384.4h4.6v4.6h-4.6zM1758.6,388.3h4.6v4.6h-4.6zM1767.2,389.2h4.6v4.6h-4.6zM1776.2,390.5h4.6v4.6h-4.6zM1784.9,392.4h4.6v4.6h-4.6zM1793.6,393.0h4.6v4.6h-4.6zM1801.7,394.0h4.6v4.6h-4.6zM1810.5,395.1h4.6v4.6h-4.6zM1818.6,394.7h4.6v4.6h-4.6zM1836.0,397.1h4.6v4.6h-4.6zM1844.7,397.6h4.6v4.6h-4.6zM1853.4,398.7h4.6v4.6h-4.6zM1862.2,399.5h4.6v4.6h-4.6zM1870.9,400.7h4.6v4.6h-4.6zM1879.6,401.8h4.6v4.6h-4.6zM1888.3,402.2h4.6v4.6h-4.6zM1897.1,403.2h4.6v4.6h-4.6zM1905.2,403.9h4.6v4.6h-4.6zM1913.9,405.0h4.6v4.6h-4.6zM1922.6,406.6h4.6v4.6h-4.6z" fill="#cc4c02" stroke="none"/>
<path d="M1441.4,127.2 C1443.6,131.3 1451.5,146.3 1454.4,152.0 C1457.3,157.8 1456.6,157.3 1458.8,161.6 C1461.0,165.9 1464.6,172.2 1467.5,177.9 C1470.4,183.5 1473.4,190.0 1476.3,195.3 C1479.1,200.6 1482.0,205.0 1484.8,209.6 C1487.7,214.3 1490.5,219.0 1493.3,223.4 C1496.2,227.8 1499.0,231.8 1501.9,236.0 C1504.7,240.2 1507.6,244.1 1510.4,248.3 C1513.2,252.5 1516.1,256.9 1519.0,261.2 C1521.8,265.4 1524.7,269.8 1527.6,273.8 C1530.5,277.8 1533.5,281.8 1536.4,285.2 C1539.3,288.5 1542.2,291.1 1545.0,293.8 C1547.9,296.6 1550.8,299.7 1553.7,301.8 C1556.6,303.9 1559.4,305.0 1562.3,306.5 C1565.2,308.0 1568.1,309.5 1570.9,310.8 C1573.8,312.2 1576.6,313.2 1579.5,314.5 C1582.4,315.8 1585.3,317.3 1588.2,318.7 C1591.0,320.1 1593.9,321.5 1596.8,323.0 C1599.7,324.6 1602.7,326.2 1605.6,328.1 C1608.5,329.9 1611.3,332.4 1614.2,334.3 C1617.1,336.3 1620.0,337.9 1622.9,339.7 C1625.8,341.5 1628.7,343.4 1631.6,345.1 C1634.5,346.8 1637.3,348.6 1640.2,350.2 C1643.1,351.7 1645.9,353.0 1648.8,354.3 C1651.6,355.7 1654.5,356.9 1657.4,358.3 C1660.2,359.7 1663.1,361.3 1666.0,362.7 C1668.9,364.1 1671.7,365.4 1674.6,366.6 C1677.5,367.9 1680.4,369.2 1683.2,370.4 C1686.1,371.6 1689.0,372.9 1691.9,373.9 C1694.8,374.8 1697.7,375.4 1700.6,376.0 C1703.4,376.7 1706.3,377.3 1709.2,377.9 C1712.1,378.5 1715.0,379.2 1717.8,379.8 C1720.7,380.4 1723.6,380.9 1726.4,381.6 C1729.3,382.2 1732.1,382.9 1735.0,383.6 C1737.9,384.2 1740.7,385.0 1743.6,385.6 C1746.5,386.3 1749.4,387.0 1752.2,387.6 C1755.1,388.3 1758.0,388.9 1760.9,389.6 C1763.8,390.2 1766.7,391.0 1769.7,391.6 C1772.6,392.2 1775.5,392.8 1778.4,393.3 C1781.3,393.7 1784.1,394.0 1787.0,394.4 C1789.9,394.8 1792.8,395.2 1795.7,395.5 C1798.5,395.8 1801.0,396.0 1804.2,396.3 C1807.3,396.6 1811.0,396.9 1814.4,397.2 C1817.8,397.5 1821.2,397.8 1824.6,398.1 C1828.0,398.4 1831.5,398.7 1834.9,399.0 C1838.4,399.3 1841.8,399.5 1845.3,399.9 C1848.7,400.2 1852.5,400.7 1855.7,401.1 C1858.9,401.4 1861.6,401.7 1864.5,402.0 C1867.4,402.3 1870.3,402.6 1873.2,402.9 C1876.1,403.2 1879.0,403.5 1881.9,403.8 C1884.8,404.1 1887.7,404.4 1890.5,404.7 C1893.4,405.0 1896.3,405.2 1899.1,405.5 C1902.0,405.8 1905.6,406.3 1907.7,406.5 C1909.9,406.7 1909.1,406.6 1912.0,407.0 C1914.9,407.4 1922.8,408.7 1924.9,409.0" stroke="#993404" stroke-width="1.3" stroke-opacity="0.65"/>
<path d="M1439.1,124.9h4.6v4.6h-4.6zM1447.7,136.9h4.6v4.6h-4.6zM1456.5,159.8h4.6v4.6h-4.6zM1465.2,177.3h4.6v4.6h-4.6zM1474.0,197.5h4.6v4.6h-4.6zM1482.7,206.3h4.6v4.6h-4.6zM1491.4,224.1h4.6v4.6h-4.6zM1499.3,231.5h4.6v4.6h-4.6zM1507.8,246.0h4.6v4.6h-4.6zM1516.7,260.6h4.6v4.6h-4.6zM1525.3,267.8h4.6v4.6h-4.6zM1534.2,288.5h4.6v4.6h-4.6zM1542.7,294.5h4.6v4.6h-4.6zM1551.5,303.0h4.6v4.6h-4.6zM1560.0,303.9h4.6v4.6h-4.6zM1568.6,307.7h4.6v4.6h-4.6zM1577.1,311.8h4.6v4.6h-4.6zM1585.9,316.2h4.6v4.6h-4.6zM1594.4,321.3h4.6v4.6h-4.6zM1603.3,325.0h4.6v4.6h-4.6zM1611.9,329.4h4.6v4.6h-4.6zM1620.8,336.9h4.6v4.6h-4.6zM1629.2,347.6h4.6v4.6h-4.6zM1637.9,348.2h4.6v4.6h-4.6zM1646.6,351.9h4.6v4.6h-4.6zM1655.0,354.8h4.6v4.6h-4.6zM1663.7,357.6h4.6v4.6h-4.6zM1672.2,367.4h4.6v4.6h-4.6zM1681.0,370.2h4.6v4.6h-4.6zM1689.5,371.7h4.6v4.6h-4.6zM1698.3,373.6h4.6v4.6h-4.6zM1707.0,374.9h4.6v4.6h-4.6zM1715.5,378.3h4.6v4.6h-4.6zM1724.1,379.6h4.6v4.6h-4.6zM1732.8,381.1h4.6v4.6h-4.6zM1741.2,382.4h4.6v4.6h-4.6zM1749.9,384.9h4.6v4.6h-4.6zM1758.6,388.7h4.6v4.6h-4.6zM1767.2,389.6h4.6v4.6h-4.6zM1776.2,390.7h4.6v4.6h-4.6zM1784.9,392.7h4.6v4.6h-4.6zM1793.6,393.2h4.6v4.6h-4.6zM1801.7,394.2h4.6v4.6h-4.6zM1810.5,395.2h4.6v4.6h-4.6zM1818.6,394.7h4.6v4.6h-4.6zM1836.0,397.2h4.6v4.6h-4.6zM1844.7,397.7h4.6v4.6h-4.6zM1853.4,398.7h4.6v4.6h-4.6zM1862.2,399.5h4.6v4.6h-4.6zM1870.9,400.7h4.6v4.6h-4.6zM1879.6,401.9h4.6v4.6h-4.6zM1888.3,402.2h4.6v4.6h-4.6zM1897.1,403.2h4.6v4.6h-4.6zM1905.2,403.9h4.6v4.6h-4.6zM1913.9,405.0h4.6v4.6h-4.6zM1922.6,406.7h4.6v4.6h-4.6z" fill="#993404" stroke="none"/>
</g>
<rect x="1760.1" y="23.0" width="102.6" height="17.6" fill="#fff7bc"/>
<text x="1758.6" y="36.5" font-size="16.5" text-anchor="end">0.21</text>
<text x="1864.2" y="36.5" font-size="16.5">0.15</text>
<rect x="1762.9" y="46.1" width="96.9" height="17.6" fill="#fee391"/>
<text x="1756.2" y="59.6" font-size="16.5" text-anchor="end">0.2</text>
<text x="1861.3" y="59.6" font-size="16.5">0.14</text>
<rect x="1762.9" y="69.2" width="91.2" height="17.6" fill="#fec44f"/>
<text x="1756.2" y="82.7" font-size="16.5" text-anchor="end">0.2</text>
<text x="1855.6" y="82.7" font-size="16.5">0.12</text>
<rect x="1762.9" y="92.3" width="88.3" height="17.6" fill="#fe9929"/>
<text x="1756.2" y="105.8" font-size="16.5" text-anchor="end">0.2</text>
<text x="1852.8" y="105.8" font-size="16.5">0.11</text>
<rect x="1765.8" y="115.5" width="88.4" height="17.6" fill="#ec7014"/>
<text x="1764.2" y="129.0" font-size="16.5" text-anchor="end">0.19</text>
<text x="1855.6" y="129.0" font-size="16.5">0.12</text>
<rect x="1765.8" y="138.6" width="85.5" height="17.6" fill="#cc4c02"/>
<text x="1764.2" y="152.1" font-size="16.5" text-anchor="end">0.19</text>
<text x="1852.8" y="152.1" font-size="16.5">0.11</text>
<rect x="1765.8" y="161.7" width="82.7" height="17.6" fill="#993404"/>
<text x="1764.2" y="175.2" font-size="16.5" text-anchor="end">0.19</text>
<text x="1855.1" y="175.2" font-size="16.5">0.1</text>
<line x1="1819.9" y1="14.0" x2="1819.9" y2="186.89999999999998" stroke="#111" stroke-width="1.6"/>
<line x1="1705.9" y1="186.89999999999998" x2="1933.9" y2="186.89999999999998" stroke="#222" stroke-width="1.6"/>
<line x1="1734.4" y1="186.89999999999998" x2="1734.4" y2="192.09999999999997" stroke="#111" stroke-width="1.6"/>
<text x="1734.4" y="214.3" font-size="16.5" text-anchor="middle">0.3</text>
<line x1="1819.9" y1="186.89999999999998" x2="1819.9" y2="192.09999999999997" stroke="#111" stroke-width="1.6"/>
<text x="1819.9" y="214.3" font-size="16.5" text-anchor="middle">0</text>
<line x1="1905.4" y1="186.89999999999998" x2="1905.4" y2="192.09999999999997" stroke="#111" stroke-width="1.6"/>
<text x="1905.4" y="214.3" font-size="16.5" text-anchor="middle">0.3</text>
<text x="1762.7" y="215.8" font-size="22">WAI</text>
<text x="1842.7" y="215.8" font-size="22">SEI</text>
<text x="1436.3" y="48.7" font-size="49.5">c</text>
<text x="1432.7" y="412.4" font-size="22">IWWYT_IRR</text>
<rect x="1408.3" y="1.2" width="567.5" height="430.2" fill="none" stroke="#000" stroke-width="2.2"/>
<line x1="1398.7" y1="412.4" x2="1408.3" y2="412.4" stroke="#000" stroke-width="2"/>
<line x1="1398.7" y1="334.0" x2="1408.3" y2="334.0" stroke="#000" stroke-width="2"/>
<line x1="1398.7" y1="255.6" x2="1408.3" y2="255.6" stroke="#000" stroke-width="2"/>
<line x1="1398.7" y1="177.1" x2="1408.3" y2="177.1" stroke="#000" stroke-width="2"/>
<line x1="1398.7" y1="98.7" x2="1408.3" y2="98.7" stroke="#000" stroke-width="2"/>
<line x1="1398.7" y1="20.3" x2="1408.3" y2="20.3" stroke="#000" stroke-width="2"/>
<line x1="1433.2" y1="431.4" x2="1433.2" y2="441.0" stroke="#000" stroke-width="2"/>
<line x1="1554.0" y1="431.4" x2="1554.0" y2="441.0" stroke="#000" stroke-width="2"/>
<line x1="1674.9" y1="431.4" x2="1674.9" y2="441.0" stroke="#000" stroke-width="2"/>
<line x1="1795.7" y1="431.4" x2="1795.7" y2="441.0" stroke="#000" stroke-width="2"/>
<line x1="1916.6" y1="431.4" x2="1916.6" y2="441.0" stroke="#000" stroke-width="2"/>
</g>
<g>
<clipPath id="cpd"><rect x="157.5" y="474.4" width="568.4" height="430.5"/></clipPath>
<g clip-path="url(#cpd)" fill="none" stroke-linejoin="round" stroke-linecap="round">
<path d="M237.6,494.8 C239.1,496.8 243.0,503.0 246.3,506.8 C249.6,510.6 253.9,514.1 257.2,517.7 C260.5,521.3 263.0,524.6 265.9,528.6 C268.8,532.6 272.1,537.0 274.6,541.7 C277.2,546.4 278.6,551.8 281.2,556.9 C283.8,562.0 286.6,567.1 289.9,572.2 C293.2,577.3 297.5,581.7 300.8,587.5 C304.1,593.3 307.0,600.9 309.5,607.1 C312.0,613.3 313.8,618.3 316.0,624.5 C318.2,630.7 320.4,636.8 322.6,644.1 C324.8,651.4 327.2,660.5 329.1,668.1 C331.0,675.8 331.4,681.8 334.0,690.0 C336.6,698.2 341.3,707.4 344.9,717.1 C348.4,726.8 351.8,738.9 355.3,748.3 C358.8,757.7 361.9,764.6 365.7,773.3 C369.5,782.0 374.0,792.0 378.2,800.3 C382.4,808.6 386.5,816.2 390.7,823.2 C394.9,830.2 399.0,836.5 403.2,842.0 C407.4,847.5 411.5,852.4 415.7,856.5 C419.9,860.6 423.3,863.4 428.2,866.9 C433.1,870.4 438.6,874.9 444.8,877.3 C451.0,879.7 458.7,880.5 465.6,881.5 C472.5,882.5 482.9,883.2 486.4,883.6" stroke="#fff7bc" stroke-width="1.1" stroke-opacity="0.75"/>
<path d="M235.5,492.7h4.2v4.2h-4.2zM241.4,500.8h4.2v4.2h-4.2zM247.9,508.4h4.2v4.2h-4.2zM254.9,515.4h4.2v4.2h-4.2zM261.2,523.2h4.2v4.2h-4.2zM267.0,531.3h4.2v4.2h-4.2zM272.5,539.7h4.2v4.2h-4.2zM276.5,548.9h4.2v4.2h-4.2zM280.8,557.9h4.2v4.2h-4.2zM285.8,566.6h4.2v4.2h-4.2zM291.2,574.9h4.2v4.2h-4.2zM297.0,583.1h4.2v4.2h-4.2zM301.6,591.9h4.2v4.2h-4.2zM305.7,601.1h4.2v4.2h-4.2zM309.4,610.3h4.2v4.2h-4.2zM312.9,619.7h4.2v4.2h-4.2zM316.2,629.1h4.2v4.2h-4.2zM319.4,638.6h4.2v4.2h-4.2zM322.2,648.2h4.2v4.2h-4.2zM324.8,657.9h4.2v4.2h-4.2zM327.3,667.5h4.2v4.2h-4.2zM329.5,677.3h4.2v4.2h-4.2zM331.7,687.0h4.2v4.2h-4.2zM335.3,696.4h4.2v4.2h-4.2zM339.0,705.6h4.2v4.2h-4.2zM342.8,714.9h4.2v4.2h-4.2zM345.9,724.4h4.2v4.2h-4.2zM349.1,733.9h4.2v4.2h-4.2zM352.3,743.4h4.2v4.2h-4.2zM355.9,752.7h4.2v4.2h-4.2zM359.7,761.9h4.2v4.2h-4.2zM363.6,771.2h4.2v4.2h-4.2zM367.8,780.2h4.2v4.2h-4.2zM372.0,789.3h4.2v4.2h-4.2zM376.2,798.4h4.2v4.2h-4.2zM381.0,807.2h4.2v4.2h-4.2zM385.8,815.9h4.2v4.2h-4.2zM390.9,824.5h4.2v4.2h-4.2zM396.4,832.9h4.2v4.2h-4.2zM402.1,841.1h4.2v4.2h-4.2zM408.6,848.6h4.2v4.2h-4.2zM415.4,855.9h4.2v4.2h-4.2zM423.1,862.3h4.2v4.2h-4.2zM431.3,868.1h4.2v4.2h-4.2zM439.8,873.4h4.2v4.2h-4.2zM449.1,876.5h4.2v4.2h-4.2zM458.9,878.5h4.2v4.2h-4.2zM468.8,879.9h4.2v4.2h-4.2zM478.7,880.9h4.2v4.2h-4.2z" fill="#fff7bc" stroke="none"/>
<path d="M205.0,497.0 C206.4,498.3 210.0,501.9 213.6,504.6 C217.2,507.3 223.1,510.4 226.7,513.3 C230.3,516.2 232.9,518.5 235.4,522.1 C237.9,525.7 239.7,531.1 241.9,535.1 C244.1,539.1 246.3,542.0 248.5,546.0 C250.7,550.0 253.2,554.7 255.0,559.1 C256.8,563.5 257.9,568.2 259.4,572.2 C260.8,576.2 262.2,579.1 263.7,583.1 C265.1,587.1 266.6,591.5 268.1,596.2 C269.6,600.9 271.1,606.3 272.5,611.4 C273.9,616.5 275.4,621.6 276.8,626.7 C278.2,631.8 279.8,636.9 281.2,642.0 C282.6,647.1 283.7,651.8 285.5,657.2 C287.3,662.6 289.9,669.2 292.1,674.6 C294.3,680.0 296.1,683.2 298.6,689.9 C301.2,696.6 304.5,705.6 307.4,715.0 C310.3,724.4 312.7,736.5 315.8,746.2 C318.9,755.9 322.7,765.3 326.2,773.3 C329.7,781.3 333.5,787.2 336.6,794.1 C339.7,801.0 341.4,808.0 344.9,814.9 C348.4,821.8 353.2,829.1 357.4,835.7 C361.6,842.3 365.0,849.2 369.9,854.4 C374.8,859.6 380.3,863.4 386.5,866.9 C392.7,870.4 400.4,873.0 407.3,875.3 C414.2,877.6 422.3,879.1 428.2,880.5 C434.1,881.9 440.3,883.1 442.7,883.6" stroke="#fee391" stroke-width="1.1" stroke-opacity="0.75"/>
<path d="M202.9,494.9h4.2v4.2h-4.2zM210.0,501.2h4.2v4.2h-4.2zM217.8,506.7h4.2v4.2h-4.2zM225.5,512.1h4.2v4.2h-4.2zM232.2,518.9h4.2v4.2h-4.2zM236.8,527.1h4.2v4.2h-4.2zM241.3,535.5h4.2v4.2h-4.2zM246.2,543.6h4.2v4.2h-4.2zM250.5,552.1h4.2v4.2h-4.2zM254.2,560.8h4.2v4.2h-4.2zM257.2,569.8h4.2v4.2h-4.2zM260.7,578.7h4.2v4.2h-4.2zM263.8,587.6h4.2v4.2h-4.2zM266.7,596.7h4.2v4.2h-4.2zM269.4,605.8h4.2v4.2h-4.2zM272.0,614.9h4.2v4.2h-4.2zM274.6,624.1h4.2v4.2h-4.2zM277.2,633.2h4.2v4.2h-4.2zM279.8,642.3h4.2v4.2h-4.2zM282.4,651.5h4.2v4.2h-4.2zM285.4,660.5h4.2v4.2h-4.2zM288.8,669.3h4.2v4.2h-4.2zM292.4,678.1h4.2v4.2h-4.2zM296.1,686.9h4.2v4.2h-4.2zM299.3,695.8h4.2v4.2h-4.2zM302.5,704.8h4.2v4.2h-4.2zM305.5,713.8h4.2v4.2h-4.2zM308.0,722.9h4.2v4.2h-4.2zM310.5,732.1h4.2v4.2h-4.2zM312.9,741.3h4.2v4.2h-4.2zM316.1,750.3h4.2v4.2h-4.2zM319.5,759.1h4.2v4.2h-4.2zM322.9,768.0h4.2v4.2h-4.2zM326.8,776.6h4.2v4.2h-4.2zM331.1,785.1h4.2v4.2h-4.2zM335.2,793.7h4.2v4.2h-4.2zM338.7,802.5h4.2v4.2h-4.2zM342.2,811.3h4.2v4.2h-4.2zM346.9,819.6h4.2v4.2h-4.2zM351.8,827.7h4.2v4.2h-4.2zM356.8,835.8h4.2v4.2h-4.2zM362.1,843.7h4.2v4.2h-4.2zM367.3,851.6h4.2v4.2h-4.2zM374.7,857.5h4.2v4.2h-4.2zM382.3,863.2h4.2v4.2h-4.2zM390.8,867.4h4.2v4.2h-4.2zM399.6,870.9h4.2v4.2h-4.2zM408.5,874.0h4.2v4.2h-4.2zM417.8,876.3h4.2v4.2h-4.2zM427.0,878.6h4.2v4.2h-4.2zM436.3,880.6h4.2v4.2h-4.2z" fill="#fee391" stroke="none"/>
<path d="M195.0,497.0 C196.3,498.3 199.6,501.9 202.7,504.6 C205.8,507.3 210.3,510.0 213.6,513.3 C216.9,516.6 219.4,520.2 222.3,524.2 C225.2,528.2 228.4,532.9 231.0,537.3 C233.6,541.7 235.4,546.0 237.6,550.4 C239.8,554.8 242.3,558.8 244.1,563.5 C245.9,568.2 247.1,573.6 248.5,578.7 C249.9,583.8 251.4,588.5 252.8,594.0 C254.2,599.5 255.7,605.9 257.2,611.4 C258.7,616.9 260.2,622.0 261.6,626.7 C263.1,631.4 264.4,634.7 265.9,639.8 C267.3,644.9 268.9,651.4 270.3,657.2 C271.8,663.0 273.3,669.1 274.6,674.6 C275.9,680.1 276.3,683.3 278.3,690.0 C280.3,696.7 283.5,708.1 286.6,715.0 C289.7,721.9 294.2,724.3 297.0,731.6 C299.8,738.9 300.9,750.4 303.3,758.7 C305.7,767.0 308.5,774.3 311.6,781.6 C314.7,788.9 318.5,795.5 322.0,802.4 C325.5,809.3 328.6,816.3 332.4,823.2 C336.2,830.1 340.0,838.1 344.9,844.0 C349.8,849.9 355.2,854.1 361.5,858.6 C367.8,863.1 374.8,867.6 382.4,871.1 C390.0,874.6 399.7,877.3 407.3,879.4 C414.9,881.5 424.7,882.9 428.2,883.6" stroke="#fec44f" stroke-width="1.1" stroke-opacity="0.75"/>
<path d="M192.9,494.9h4.2v4.2h-4.2zM199.3,501.2h4.2v4.2h-4.2zM206.2,507.0h4.2v4.2h-4.2zM212.9,512.9h4.2v4.2h-4.2zM218.5,520.0h4.2v4.2h-4.2zM223.7,527.3h4.2v4.2h-4.2zM228.7,534.8h4.2v4.2h-4.2zM232.8,542.8h4.2v4.2h-4.2zM236.8,550.9h4.2v4.2h-4.2zM240.8,559.0h4.2v4.2h-4.2zM243.7,567.4h4.2v4.2h-4.2zM246.2,576.1h4.2v4.2h-4.2zM248.7,584.7h4.2v4.2h-4.2zM251.1,593.4h4.2v4.2h-4.2zM253.3,602.1h4.2v4.2h-4.2zM255.5,610.8h4.2v4.2h-4.2zM258.0,619.5h4.2v4.2h-4.2zM260.6,628.1h4.2v4.2h-4.2zM263.5,636.7h4.2v4.2h-4.2zM265.7,645.4h4.2v4.2h-4.2zM267.9,654.1h4.2v4.2h-4.2zM270.1,662.8h4.2v4.2h-4.2zM272.3,671.6h4.2v4.2h-4.2zM274.4,680.3h4.2v4.2h-4.2zM276.6,689.0h4.2v4.2h-4.2zM279.4,697.6h4.2v4.2h-4.2zM282.2,706.1h4.2v4.2h-4.2zM285.5,714.5h4.2v4.2h-4.2zM290.3,722.1h4.2v4.2h-4.2zM295.0,729.8h4.2v4.2h-4.2zM297.0,738.5h4.2v4.2h-4.2zM299.0,747.3h4.2v4.2h-4.2zM301.1,756.0h4.2v4.2h-4.2zM304.1,764.5h4.2v4.2h-4.2zM307.1,773.0h4.2v4.2h-4.2zM310.4,781.4h4.2v4.2h-4.2zM314.5,789.4h4.2v4.2h-4.2zM318.5,797.5h4.2v4.2h-4.2zM322.5,805.5h4.2v4.2h-4.2zM326.5,813.6h4.2v4.2h-4.2zM330.6,821.6h4.2v4.2h-4.2zM335.2,829.3h4.2v4.2h-4.2zM339.9,837.0h4.2v4.2h-4.2zM345.3,844.1h4.2v4.2h-4.2zM352.0,850.0h4.2v4.2h-4.2zM358.8,856.0h4.2v4.2h-4.2zM366.4,860.7h4.2v4.2h-4.2zM374.2,865.3h4.2v4.2h-4.2zM382.0,869.6h4.2v4.2h-4.2zM390.6,872.4h4.2v4.2h-4.2zM399.1,875.3h4.2v4.2h-4.2zM407.7,877.8h4.2v4.2h-4.2zM416.6,879.6h4.2v4.2h-4.2zM425.4,881.4h4.2v4.2h-4.2z" fill="#fec44f" stroke="none"/>
<path d="M192.0,497.0 C193.1,498.6 195.4,503.4 198.3,506.8 C201.2,510.2 205.9,513.7 209.2,517.7 C212.5,521.7 215.1,526.1 218.0,530.8 C220.9,535.5 224.2,541.6 226.7,546.0 C229.2,550.4 231.0,552.5 233.2,556.9 C235.4,561.3 238.0,567.5 239.8,572.2 C241.6,576.9 242.7,580.6 244.1,585.3 C245.5,590.0 247.1,595.4 248.5,600.5 C249.9,605.6 251.4,610.3 252.8,615.8 C254.2,621.2 255.7,628.1 257.2,633.2 C258.7,638.3 260.2,641.9 261.6,646.3 C263.1,650.7 264.5,654.3 265.9,659.4 C267.3,664.5 269.0,671.7 270.0,676.8 C271.0,681.9 270.6,684.3 272.0,690.0 C273.4,695.7 275.9,702.8 278.3,710.8 C280.7,718.8 283.5,728.9 286.6,737.9 C289.7,746.9 293.5,756.9 297.0,764.9 C300.5,772.9 303.9,778.8 307.4,785.8 C310.9,792.8 314.3,799.7 317.8,806.6 C321.3,813.5 324.4,820.5 328.2,827.4 C332.0,834.3 335.8,842.0 340.7,848.2 C345.6,854.5 351.1,860.4 357.4,864.9 C363.6,869.4 370.6,872.5 378.2,875.3 C385.8,878.1 396.6,880.1 403.2,881.5 C409.8,882.9 415.4,883.2 417.8,883.6" stroke="#fe9929" stroke-width="1.1" stroke-opacity="0.75"/>
<path d="M189.9,494.9h4.2v4.2h-4.2zM194.8,502.5h4.2v4.2h-4.2zM200.7,509.2h4.2v4.2h-4.2zM207.1,515.6h4.2v4.2h-4.2zM212.1,523.0h4.2v4.2h-4.2zM217.0,530.6h4.2v4.2h-4.2zM221.4,538.4h4.2v4.2h-4.2zM226.0,546.2h4.2v4.2h-4.2zM230.6,553.9h4.2v4.2h-4.2zM234.2,562.1h4.2v4.2h-4.2zM237.8,570.4h4.2v4.2h-4.2zM240.6,578.9h4.2v4.2h-4.2zM243.3,587.5h4.2v4.2h-4.2zM245.8,596.2h4.2v4.2h-4.2zM248.2,604.8h4.2v4.2h-4.2zM250.6,613.5h4.2v4.2h-4.2zM252.9,622.2h4.2v4.2h-4.2zM255.1,630.9h4.2v4.2h-4.2zM257.9,639.5h4.2v4.2h-4.2zM260.8,648.0h4.2v4.2h-4.2zM263.6,656.6h4.2v4.2h-4.2zM265.7,665.3h4.2v4.2h-4.2zM267.8,674.1h4.2v4.2h-4.2zM269.2,683.0h4.2v4.2h-4.2zM271.1,691.7h4.2v4.2h-4.2zM273.7,700.3h4.2v4.2h-4.2zM276.3,709.0h4.2v4.2h-4.2zM278.9,717.6h4.2v4.2h-4.2zM281.5,726.2h4.2v4.2h-4.2zM284.2,734.8h4.2v4.2h-4.2zM287.3,743.2h4.2v4.2h-4.2zM290.6,751.6h4.2v4.2h-4.2zM293.8,760.0h4.2v4.2h-4.2zM297.6,768.2h4.2v4.2h-4.2zM301.6,776.2h4.2v4.2h-4.2zM305.6,784.3h4.2v4.2h-4.2zM309.6,792.3h4.2v4.2h-4.2zM313.6,800.4h4.2v4.2h-4.2zM317.7,808.4h4.2v4.2h-4.2zM321.7,816.5h4.2v4.2h-4.2zM325.7,824.5h4.2v4.2h-4.2zM330.3,832.3h4.2v4.2h-4.2zM334.9,840.0h4.2v4.2h-4.2zM339.9,847.4h4.2v4.2h-4.2zM346.3,853.8h4.2v4.2h-4.2zM352.6,860.1h4.2v4.2h-4.2zM360.0,865.1h4.2v4.2h-4.2zM368.0,869.2h4.2v4.2h-4.2zM376.1,873.2h4.2v4.2h-4.2zM384.8,875.4h4.2v4.2h-4.2zM393.6,877.5h4.2v4.2h-4.2zM402.3,879.6h4.2v4.2h-4.2zM411.2,880.9h4.2v4.2h-4.2z" fill="#fe9929" stroke="none"/>
<path d="M190.0,497.0 C191.0,499.0 193.7,504.5 196.2,509.0 C198.7,513.5 201.6,519.1 204.9,524.2 C208.2,529.3 212.5,534.4 215.8,539.5 C219.1,544.6 222.0,550.1 224.5,554.8 C227.0,559.5 228.8,563.1 231.0,567.8 C233.2,572.5 235.8,578.0 237.6,583.1 C239.4,588.2 240.4,593.3 241.9,598.4 C243.4,603.5 244.8,608.5 246.3,613.6 C247.8,618.7 249.2,623.8 250.7,628.9 C252.1,634.0 253.6,639.0 255.0,644.1 C256.4,649.2 257.9,654.0 259.4,659.4 C260.8,664.8 262.8,671.7 263.7,676.8 C264.6,681.9 263.6,684.3 265.0,690.0 C266.4,695.7 269.4,702.8 272.0,710.8 C274.6,718.8 277.3,728.9 280.4,737.9 C283.5,746.9 287.3,756.6 290.8,764.9 C294.3,773.2 297.7,780.5 301.2,787.8 C304.7,795.1 308.1,801.4 311.6,808.7 C315.1,816.0 317.8,824.2 322.0,831.5 C326.2,838.8 331.4,846.5 336.6,852.4 C341.8,858.3 347.0,862.8 353.2,866.9 C359.4,871.0 366.4,874.7 374.0,877.3 C381.6,879.9 392.1,881.4 399.0,882.5 C405.9,883.6 412.9,883.8 415.7,884.0" stroke="#ec7014" stroke-width="1.1" stroke-opacity="0.75"/>
<path d="M187.9,494.9h4.2v4.2h-4.2zM192.0,502.9h4.2v4.2h-4.2zM196.3,510.8h4.2v4.2h-4.2zM200.8,518.6h4.2v4.2h-4.2zM205.7,526.2h4.2v4.2h-4.2zM210.9,533.5h4.2v4.2h-4.2zM215.8,541.0h4.2v4.2h-4.2zM220.2,548.9h4.2v4.2h-4.2zM224.5,556.8h4.2v4.2h-4.2zM228.5,564.9h4.2v4.2h-4.2zM232.1,573.1h4.2v4.2h-4.2zM235.6,581.4h4.2v4.2h-4.2zM238.0,590.0h4.2v4.2h-4.2zM240.5,598.7h4.2v4.2h-4.2zM243.0,607.3h4.2v4.2h-4.2zM245.5,616.0h4.2v4.2h-4.2zM248.0,624.6h4.2v4.2h-4.2zM250.4,633.3h4.2v4.2h-4.2zM252.9,642.0h4.2v4.2h-4.2zM255.4,650.6h4.2v4.2h-4.2zM257.8,659.3h4.2v4.2h-4.2zM259.9,668.0h4.2v4.2h-4.2zM261.8,676.8h4.2v4.2h-4.2zM262.7,685.8h4.2v4.2h-4.2zM265.1,694.4h4.2v4.2h-4.2zM268.0,702.9h4.2v4.2h-4.2zM270.8,711.5h4.2v4.2h-4.2zM273.4,720.1h4.2v4.2h-4.2zM276.1,728.7h4.2v4.2h-4.2zM278.9,737.2h4.2v4.2h-4.2zM282.1,745.6h4.2v4.2h-4.2zM285.3,754.0h4.2v4.2h-4.2zM288.6,762.4h4.2v4.2h-4.2zM292.3,770.6h4.2v4.2h-4.2zM296.0,778.8h4.2v4.2h-4.2zM299.7,787.0h4.2v4.2h-4.2zM303.8,795.1h4.2v4.2h-4.2zM307.8,803.1h4.2v4.2h-4.2zM311.6,811.2h4.2v4.2h-4.2zM315.4,819.4h4.2v4.2h-4.2zM319.1,827.6h4.2v4.2h-4.2zM323.9,835.2h4.2v4.2h-4.2zM329.1,842.6h4.2v4.2h-4.2zM334.2,849.9h4.2v4.2h-4.2zM340.9,855.9h4.2v4.2h-4.2zM347.7,861.8h4.2v4.2h-4.2zM355.1,866.8h4.2v4.2h-4.2zM363.2,870.8h4.2v4.2h-4.2zM371.2,874.9h4.2v4.2h-4.2zM380.0,876.9h4.2v4.2h-4.2zM388.8,878.7h4.2v4.2h-4.2zM397.6,880.5h4.2v4.2h-4.2zM406.6,881.3h4.2v4.2h-4.2z" fill="#ec7014" stroke="none"/>
<path d="M188.0,497.0 C188.6,498.6 189.4,502.6 191.8,506.8 C194.2,511.0 199.1,516.6 202.7,522.1 C206.3,527.6 210.3,534.0 213.6,539.5 C216.9,545.0 219.8,549.3 222.3,554.8 C224.9,560.2 227.1,566.8 228.9,572.2 C230.7,577.7 231.8,582.4 233.2,587.5 C234.6,592.6 236.1,597.3 237.6,602.7 C239.1,608.1 240.4,614.7 241.9,620.1 C243.4,625.5 244.8,630.3 246.3,635.4 C247.8,640.5 249.2,645.6 250.7,650.7 C252.1,655.8 253.6,660.8 255.0,665.9 C256.4,671.0 258.4,677.2 259.4,681.2 C260.4,685.2 259.9,685.1 261.0,690.0 C262.1,694.9 263.6,702.8 265.8,710.8 C268.0,718.8 271.0,728.5 274.1,737.9 C277.2,747.3 281.0,758.3 284.5,767.0 C288.0,775.7 291.4,782.6 294.9,789.9 C298.4,797.2 301.8,803.4 305.3,810.7 C308.8,818.0 311.6,826.3 315.8,833.6 C320.0,840.9 325.1,848.5 330.3,854.4 C335.5,860.3 340.8,865.0 347.0,869.0 C353.2,873.0 360.2,876.1 367.8,878.4 C375.4,880.6 386.2,881.6 392.8,882.5 C399.4,883.4 404.9,883.8 407.3,884.0" stroke="#cc4c02" stroke-width="1.1" stroke-opacity="0.75"/>
<path d="M185.9,494.9h4.2v4.2h-4.2zM189.2,503.3h4.2v4.2h-4.2zM194.0,510.8h4.2v4.2h-4.2zM199.3,518.1h4.2v4.2h-4.2zM204.2,525.7h4.2v4.2h-4.2zM208.9,533.3h4.2v4.2h-4.2zM213.6,541.0h4.2v4.2h-4.2zM218.0,548.8h4.2v4.2h-4.2zM221.8,557.0h4.2v4.2h-4.2zM225.0,565.4h4.2v4.2h-4.2zM227.9,573.9h4.2v4.2h-4.2zM230.3,582.6h4.2v4.2h-4.2zM232.8,591.2h4.2v4.2h-4.2zM235.3,599.9h4.2v4.2h-4.2zM237.5,608.6h4.2v4.2h-4.2zM239.6,617.3h4.2v4.2h-4.2zM242.1,626.0h4.2v4.2h-4.2zM244.6,634.6h4.2v4.2h-4.2zM247.1,643.3h4.2v4.2h-4.2zM249.5,651.9h4.2v4.2h-4.2zM252.0,660.6h4.2v4.2h-4.2zM254.5,669.3h4.2v4.2h-4.2zM257.0,677.9h4.2v4.2h-4.2zM258.7,686.7h4.2v4.2h-4.2zM260.7,695.5h4.2v4.2h-4.2zM262.7,704.3h4.2v4.2h-4.2zM265.0,713.0h4.2v4.2h-4.2zM267.6,721.6h4.2v4.2h-4.2zM270.3,730.2h4.2v4.2h-4.2zM273.1,738.7h4.2v4.2h-4.2zM276.1,747.2h4.2v4.2h-4.2zM279.1,755.7h4.2v4.2h-4.2zM282.1,764.2h4.2v4.2h-4.2zM285.8,772.4h4.2v4.2h-4.2zM289.5,780.6h4.2v4.2h-4.2zM293.3,788.8h4.2v4.2h-4.2zM297.3,796.8h4.2v4.2h-4.2zM301.3,804.9h4.2v4.2h-4.2zM305.2,813.0h4.2v4.2h-4.2zM309.0,821.2h4.2v4.2h-4.2zM312.7,829.3h4.2v4.2h-4.2zM317.5,836.9h4.2v4.2h-4.2zM322.6,844.3h4.2v4.2h-4.2zM327.8,851.7h4.2v4.2h-4.2zM334.4,857.7h4.2v4.2h-4.2zM341.2,863.7h4.2v4.2h-4.2zM348.6,868.6h4.2v4.2h-4.2zM356.8,872.3h4.2v4.2h-4.2zM365.0,876.0h4.2v4.2h-4.2zM373.9,877.6h4.2v4.2h-4.2zM382.7,879.1h4.2v4.2h-4.2zM391.6,880.5h4.2v4.2h-4.2zM400.6,881.4h4.2v4.2h-4.2z" fill="#cc4c02" stroke="none"/>
<path d="M185.3,498.1 C187.5,501.4 194.0,511.2 198.3,517.7 C202.7,524.2 207.8,530.8 211.4,537.3 C215.0,543.8 217.6,550.3 220.1,556.9 C222.6,563.5 224.9,570.4 226.7,576.6 C228.5,582.8 229.6,588.2 231.0,594.0 C232.4,599.8 233.9,605.6 235.4,611.4 C236.9,617.2 238.4,623.1 239.8,628.9 C241.2,634.7 242.7,640.1 244.1,646.3 C245.5,652.5 247.3,658.6 248.5,665.9 C249.7,673.2 249.3,682.5 251.2,690.0 C253.0,697.5 256.8,703.2 259.6,710.8 C262.4,718.4 264.8,727.1 267.9,735.8 C271.0,744.5 274.8,754.2 278.3,762.9 C281.8,771.6 285.2,780.2 288.7,787.8 C292.2,795.4 295.6,801.1 299.1,808.7 C302.6,816.3 305.3,826.0 309.5,833.6 C313.7,841.2 319.2,848.5 324.1,854.4 C329.0,860.3 333.1,865.2 338.7,869.0 C344.2,872.8 350.8,875.4 357.4,877.3 C364.0,879.2 371.3,879.6 378.2,880.5 C385.1,881.4 395.5,882.2 399.0,882.5" stroke="#993404" stroke-width="1.1" stroke-opacity="0.75"/>
<path d="M183.2,496.0h4.2v4.2h-4.2zM188.2,503.5h4.2v4.2h-4.2zM193.1,511.0h4.2v4.2h-4.2zM198.1,518.5h4.2v4.2h-4.2zM203.1,526.0h4.2v4.2h-4.2zM208.1,533.5h4.2v4.2h-4.2zM212.1,541.5h4.2v4.2h-4.2zM215.8,549.7h4.2v4.2h-4.2zM219.1,558.1h4.2v4.2h-4.2zM222.0,566.6h4.2v4.2h-4.2zM224.8,575.2h4.2v4.2h-4.2zM226.9,583.9h4.2v4.2h-4.2zM229.1,592.6h4.2v4.2h-4.2zM231.3,601.4h4.2v4.2h-4.2zM233.5,610.1h4.2v4.2h-4.2zM235.7,618.8h4.2v4.2h-4.2zM237.9,627.5h4.2v4.2h-4.2zM240.0,636.3h4.2v4.2h-4.2zM242.2,645.0h4.2v4.2h-4.2zM244.2,653.8h4.2v4.2h-4.2zM246.1,662.6h4.2v4.2h-4.2zM247.3,671.5h4.2v4.2h-4.2zM248.3,680.5h4.2v4.2h-4.2zM249.7,689.3h4.2v4.2h-4.2zM253.0,697.6h4.2v4.2h-4.2zM256.4,706.0h4.2v4.2h-4.2zM259.4,714.5h4.2v4.2h-4.2zM262.3,723.0h4.2v4.2h-4.2zM265.1,731.5h4.2v4.2h-4.2zM268.2,740.0h4.2v4.2h-4.2zM271.4,748.4h4.2v4.2h-4.2zM274.7,756.8h4.2v4.2h-4.2zM278.0,765.1h4.2v4.2h-4.2zM281.5,773.4h4.2v4.2h-4.2zM285.0,781.8h4.2v4.2h-4.2zM288.7,789.9h4.2v4.2h-4.2zM292.7,798.0h4.2v4.2h-4.2zM296.7,806.0h4.2v4.2h-4.2zM300.2,814.3h4.2v4.2h-4.2zM303.7,822.6h4.2v4.2h-4.2zM307.2,830.9h4.2v4.2h-4.2zM312.2,838.4h4.2v4.2h-4.2zM317.4,845.7h4.2v4.2h-4.2zM322.7,853.0h4.2v4.2h-4.2zM329.1,859.4h4.2v4.2h-4.2zM335.4,865.7h4.2v4.2h-4.2zM343.3,869.9h4.2v4.2h-4.2zM351.5,873.5h4.2v4.2h-4.2zM360.1,875.9h4.2v4.2h-4.2zM369.0,877.3h4.2v4.2h-4.2zM377.9,878.6h4.2v4.2h-4.2zM386.9,879.4h4.2v4.2h-4.2zM395.8,880.3h4.2v4.2h-4.2z" fill="#993404" stroke="none"/>
</g>
<rect x="512.1" y="496.2" width="153.9" height="17.6" fill="#fff7bc"/>
<text x="505.4" y="509.7" font-size="16.5" text-anchor="end">0.2</text>
<text x="667.5" y="509.7" font-size="16.5">0.34</text>
<rect x="529.2" y="519.3" width="125.4" height="17.6" fill="#fee391"/>
<text x="527.7" y="532.8" font-size="16.5" text-anchor="end">0.14</text>
<text x="661.3" y="532.8" font-size="16.5">0.3</text>
<rect x="534.9" y="542.4" width="111.2" height="17.6" fill="#fec44f"/>
<text x="533.4" y="555.9" font-size="16.5" text-anchor="end">0.12</text>
<text x="647.6" y="555.9" font-size="16.5">0.27</text>
<rect x="537.8" y="565.5" width="108.3" height="17.6" fill="#fe9929"/>
<text x="536.2" y="579.0" font-size="16.5" text-anchor="end">0.11</text>
<text x="647.6" y="579.0" font-size="16.5">0.27</text>
<rect x="543.5" y="588.7" width="102.6" height="17.6" fill="#ec7014"/>
<text x="542.0" y="602.2" font-size="16.5" text-anchor="end">0.09</text>
<text x="647.6" y="602.2" font-size="16.5">0.27</text>
<rect x="540.6" y="611.8" width="105.5" height="17.6" fill="#cc4c02"/>
<text x="533.9" y="625.3" font-size="16.5" text-anchor="end">0.1</text>
<text x="647.6" y="625.3" font-size="16.5">0.27</text>
<rect x="543.5" y="634.9" width="94.0" height="17.6" fill="#993404"/>
<text x="542.0" y="648.4" font-size="16.5" text-anchor="end">0.09</text>
<text x="639.0" y="648.4" font-size="16.5">0.24</text>
<line x1="569.1" y1="487.2" x2="569.1" y2="660.0999999999999" stroke="#111" stroke-width="1.6"/>
<line x1="455.1" y1="660.0999999999999" x2="683.1" y2="660.0999999999999" stroke="#222" stroke-width="1.6"/>
<line x1="483.6" y1="660.0999999999999" x2="483.6" y2="665.3" stroke="#111" stroke-width="1.6"/>
<text x="483.6" y="687.5" font-size="16.5" text-anchor="middle">0.3</text>
<line x1="569.1" y1="660.0999999999999" x2="569.1" y2="665.3" stroke="#111" stroke-width="1.6"/>
<text x="569.1" y="687.5" font-size="16.5" text-anchor="middle">0</text>
<line x1="654.6" y1="660.0999999999999" x2="654.6" y2="665.3" stroke="#111" stroke-width="1.6"/>
<text x="654.6" y="687.5" font-size="16.5" text-anchor="middle">0.3</text>
<text x="511.9" y="689.0" font-size="22">WAI</text>
<text x="591.9" y="689.0" font-size="22">SEI</text>
<text x="168.9" y="529.4" font-size="49.5">d</text>
<text x="181.9" y="885.6" font-size="22">HTWYT</text>
<rect x="157.5" y="474.4" width="568.4" height="430.5" fill="none" stroke="#000" stroke-width="2.2"/>
<line x1="147.9" y1="885.6" x2="157.5" y2="885.6" stroke="#000" stroke-width="2"/>
<text x="138.5" y="895.8" font-size="27.8" text-anchor="end">0</text>
<line x1="147.9" y1="807.2" x2="157.5" y2="807.2" stroke="#000" stroke-width="2"/>
<text x="138.5" y="817.4" font-size="27.8" text-anchor="end">20</text>
<line x1="147.9" y1="728.8" x2="157.5" y2="728.8" stroke="#000" stroke-width="2"/>
<text x="138.5" y="739.0" font-size="27.8" text-anchor="end">40</text>
<line x1="147.9" y1="650.3" x2="157.5" y2="650.3" stroke="#000" stroke-width="2"/>
<text x="138.5" y="660.5" font-size="27.8" text-anchor="end">60</text>
<line x1="147.9" y1="571.9" x2="157.5" y2="571.9" stroke="#000" stroke-width="2"/>
<text x="138.5" y="582.1" font-size="27.8" text-anchor="end">80</text>
<line x1="147.9" y1="493.5" x2="157.5" y2="493.5" stroke="#000" stroke-width="2"/>
<text x="138.5" y="503.7" font-size="27.8" text-anchor="end">100</text>
<line x1="182.4" y1="904.9" x2="182.4" y2="914.5" stroke="#000" stroke-width="2"/>
<text x="182.4" y="944.6" font-size="27.8" text-anchor="middle">0</text>
<line x1="303.2" y1="904.9" x2="303.2" y2="914.5" stroke="#000" stroke-width="2"/>
<text x="303.2" y="944.6" font-size="27.8" text-anchor="middle">20</text>
<line x1="424.1" y1="904.9" x2="424.1" y2="914.5" stroke="#000" stroke-width="2"/>
<text x="424.1" y="944.6" font-size="27.8" text-anchor="middle">40</text>
<line x1="544.9" y1="904.9" x2="544.9" y2="914.5" stroke="#000" stroke-width="2"/>
<text x="544.9" y="944.6" font-size="27.8" text-anchor="middle">60</text>
<line x1="665.8" y1="904.9" x2="665.8" y2="914.5" stroke="#000" stroke-width="2"/>
<text x="665.8" y="944.6" font-size="27.8" text-anchor="middle">80</text>
</g>
<g>
<clipPath id="cpe"><rect x="782.9" y="474.4" width="568.6" height="430.5"/></clipPath>
<g clip-path="url(#cpe)" fill="none" stroke-linejoin="round" stroke-linecap="round">
<path d="M812.0,492.0 C815.1,492.2 824.7,492.7 830.4,493.2 C836.1,493.8 841.0,494.2 846.2,495.5 C851.5,496.8 856.9,498.7 862.0,501.3 C867.1,503.9 872.6,507.5 876.7,511.0 C880.8,514.5 883.8,518.4 886.6,522.1 C889.5,525.8 891.2,529.4 893.5,533.2 C895.9,536.9 898.4,540.7 901.0,544.5 C903.6,548.3 906.6,552.2 909.3,556.1 C912.1,560.0 915.0,564.1 917.7,567.8 C920.3,571.5 922.3,574.5 925.0,578.5 C927.6,582.4 929.9,585.8 933.5,591.6 C937.2,597.4 942.0,605.1 946.8,613.2 C951.5,621.3 957.0,631.5 962.0,640.4 C967.1,649.3 971.8,658.1 977.2,666.6 C982.5,675.2 987.2,682.9 993.8,691.5 C1000.4,700.0 1008.1,708.7 1016.8,717.7 C1025.4,726.7 1036.7,736.6 1045.8,745.4 C1055.0,754.2 1064.2,763.0 1071.8,770.4 C1079.3,777.8 1084.9,783.7 1091.4,789.6 C1097.9,795.5 1104.1,800.3 1110.8,805.9 C1117.5,811.5 1124.6,817.5 1131.5,823.2 C1138.4,828.9 1145.1,834.9 1152.3,839.8 C1159.5,844.8 1166.7,849.1 1174.8,853.0 C1182.9,856.9 1191.5,859.9 1200.7,863.0 C1209.9,866.2 1220.0,869.0 1230.1,871.7 C1240.3,874.4 1251.3,877.0 1261.6,879.3 C1272.0,881.6 1287.0,884.5 1292.1,885.5" stroke="#fff7bc" stroke-width="5.0"/>
<path d="M810.0,493.0 C811.1,493.3 814.2,493.6 816.9,494.9 C819.6,496.2 823.0,498.2 826.2,500.8 C829.5,503.3 833.0,506.9 836.2,510.4 C839.4,514.0 842.4,518.0 845.4,521.8 C848.3,525.6 851.2,529.4 854.0,533.2 C856.7,537.0 859.2,540.6 861.7,544.5 C864.2,548.4 866.5,552.4 868.9,556.4 C871.3,560.4 873.9,564.6 876.1,568.3 C878.3,572.1 879.8,574.9 881.9,578.8 C883.9,582.6 885.2,585.9 888.6,591.6 C892.0,597.3 896.8,605.1 902.0,613.2 C907.2,621.3 914.0,631.5 919.9,640.4 C925.9,649.3 931.3,658.1 937.5,666.6 C943.8,675.2 949.6,682.9 957.3,691.5 C965.1,700.0 974.3,708.7 984.1,717.7 C993.9,726.7 1005.3,736.2 1016.2,745.4 C1027.1,754.6 1039.3,764.5 1049.7,772.8 C1060.0,781.1 1068.8,788.2 1078.4,795.4 C1088.1,802.6 1095.1,808.3 1107.5,816.0 C1119.8,823.6 1136.1,833.5 1152.3,841.4 C1168.5,849.3 1188.2,857.5 1204.4,863.4 C1220.7,869.2 1235.3,872.6 1249.9,876.2 C1264.5,879.9 1285.0,884.0 1292.0,885.5" stroke="#fee391" stroke-width="5.0"/>
<path d="M808.0,494.0 C808.7,494.9 810.5,496.9 812.5,499.4 C814.5,501.9 817.2,505.1 819.9,508.9 C822.6,512.6 825.8,517.4 828.5,521.8 C831.2,526.2 833.8,530.9 836.2,535.4 C838.7,539.9 841.0,544.3 843.2,548.7 C845.4,553.1 847.6,557.5 849.5,561.9 C851.5,566.3 852.9,570.2 854.8,575.1 C856.8,579.9 858.0,584.6 861.2,591.0 C864.4,597.4 868.9,605.2 874.2,613.5 C879.5,621.7 886.7,631.5 893.0,640.4 C899.4,649.3 905.7,658.1 912.3,666.6 C918.9,675.2 924.9,682.9 932.7,691.5 C940.4,700.0 948.8,708.7 958.9,717.7 C968.9,726.7 981.0,736.2 992.9,745.4 C1004.9,754.6 1018.4,764.2 1030.6,772.8 C1042.8,781.4 1053.8,789.3 1066.0,797.2 C1078.1,805.0 1089.2,812.1 1103.6,820.1 C1118.0,828.0 1135.5,837.5 1152.3,845.0 C1169.1,852.5 1188.2,859.9 1204.4,865.3 C1220.7,870.6 1235.3,873.9 1249.9,877.2 C1264.5,880.6 1285.0,884.1 1292.0,885.5" stroke="#fec44f" stroke-width="5.0"/>
<path d="M808.0,494.0 C808.3,495.7 808.9,500.2 810.0,504.2 C811.1,508.3 812.8,513.4 814.6,518.2 C816.5,523.0 818.9,528.2 821.0,532.9 C823.2,537.6 825.5,541.9 827.7,546.4 C829.8,550.9 831.9,555.4 834.0,560.0 C836.1,564.6 837.8,568.9 840.2,574.0 C842.6,579.1 844.8,584.1 848.3,590.7 C851.8,597.3 856.0,605.2 861.2,613.5 C866.4,621.7 873.1,631.5 879.2,640.4 C885.4,649.3 891.7,658.1 898.0,666.6 C904.3,675.2 909.7,682.9 917.2,691.5 C924.7,700.0 933.1,708.7 943.1,717.7 C953.0,726.7 965.0,736.2 976.9,745.4 C988.8,754.6 1001.6,763.8 1014.5,772.8 C1027.5,781.8 1040.4,790.5 1054.6,799.2 C1068.9,808.0 1083.7,816.9 1100.0,825.3 C1116.3,833.7 1134.9,842.5 1152.3,849.5 C1169.7,856.5 1188.2,862.4 1204.4,867.1 C1220.7,871.9 1235.3,874.8 1249.9,877.9 C1264.5,880.9 1285.0,884.2 1292.0,885.5" stroke="#fe9929" stroke-width="5.0"/>
<path d="M808.0,494.0 C808.2,497.1 808.4,506.8 809.2,512.5 C809.9,518.3 811.1,523.7 812.5,528.7 C814.0,533.7 816.0,537.8 818.0,542.3 C819.9,546.7 822.1,550.9 824.1,555.3 C826.0,559.7 828.0,564.5 829.9,568.6 C831.8,572.7 833.4,576.1 835.4,580.1 C837.5,584.1 839.3,587.1 842.2,592.7 C845.2,598.2 848.6,605.5 853.0,613.5 C857.5,621.4 863.3,631.5 869.0,640.4 C874.7,649.3 881.2,658.1 887.5,666.6 C893.7,675.2 899.4,682.9 906.6,691.5 C913.8,700.0 921.4,708.7 930.6,717.7 C939.9,726.7 950.8,736.2 962.2,745.4 C973.6,754.6 987.2,764.5 999.0,772.8 C1010.8,781.1 1022.4,788.7 1032.9,795.4 C1043.4,802.2 1050.5,806.8 1061.8,813.2 C1073.0,819.5 1085.3,826.7 1100.4,833.6 C1115.5,840.6 1135.0,848.7 1152.3,854.8 C1169.6,860.8 1188.2,865.8 1204.4,869.9 C1220.7,873.9 1235.3,876.4 1249.9,879.0 C1264.5,881.7 1285.0,884.4 1292.0,885.5" stroke="#ec7014" stroke-width="5.0"/>
<path d="M807.5,494.0 C807.7,498.2 808.1,512.6 808.8,519.5 C809.4,526.4 810.3,530.8 811.5,535.4 C812.6,540.0 814.2,542.9 815.8,547.0 C817.3,551.0 819.2,555.3 821.0,559.7 C822.8,564.1 824.5,568.1 826.8,573.2 C829.0,578.2 831.1,583.3 834.4,589.9 C837.6,596.6 841.5,604.8 846.1,613.2 C850.6,621.6 856.3,631.5 861.8,640.4 C867.3,649.3 873.2,658.1 879.1,666.6 C885.0,675.2 890.5,682.9 897.2,691.5 C903.9,700.0 910.7,708.7 919.3,717.7 C927.8,726.7 937.7,736.2 948.6,745.4 C959.5,754.6 972.4,764.2 984.6,772.8 C996.9,781.4 1009.8,789.6 1022.1,797.2 C1034.4,804.7 1045.1,811.2 1058.2,818.3 C1071.2,825.5 1084.7,833.1 1100.4,839.8 C1116.1,846.6 1135.0,853.6 1152.3,858.9 C1169.6,864.2 1188.9,868.3 1204.4,871.7 C1220.0,875.1 1234.2,877.3 1245.7,879.3 C1257.1,881.2 1265.3,882.3 1273.0,883.4 C1280.7,884.4 1288.8,885.1 1292.0,885.5" stroke="#cc4c02" stroke-width="5.0"/>
<path d="M807.5,494.0 C807.5,496.7 807.5,505.1 807.7,510.4 C807.8,515.7 807.9,521.0 808.4,525.7 C808.9,530.4 809.8,534.3 810.8,538.4 C811.8,542.6 813.2,546.5 814.5,550.6 C815.9,554.7 817.4,559.0 818.8,563.1 C820.2,567.2 821.3,570.6 822.9,575.1 C824.6,579.7 826.0,584.1 828.6,590.5 C831.2,596.8 834.6,604.9 838.6,613.2 C842.7,621.5 847.6,631.5 852.7,640.4 C857.7,649.3 863.3,658.1 868.9,666.6 C874.5,675.2 879.9,682.9 886.2,691.5 C892.4,700.0 898.6,708.7 906.5,717.7 C914.5,726.7 923.9,736.5 934.0,745.4 C944.0,754.3 956.5,763.7 966.8,771.1 C977.0,778.5 987.2,784.7 995.3,789.9 C1003.5,795.2 1009.0,798.4 1015.5,802.5 C1022.1,806.5 1028.0,810.3 1034.6,814.2 C1041.2,818.1 1048.5,822.2 1055.4,826.0 C1062.3,829.8 1068.9,833.4 1076.1,837.1 C1083.3,840.7 1090.5,844.4 1098.6,847.8 C1106.7,851.1 1115.7,854.4 1124.6,857.1 C1133.5,859.9 1143.1,862.2 1152.3,864.4 C1161.5,866.6 1170.8,868.4 1180.0,870.3 C1189.2,872.2 1198.2,874.0 1207.7,875.8 C1217.2,877.6 1226.7,879.4 1237.1,881.0 C1247.5,882.6 1264.5,884.8 1270.0,885.5" stroke="#993404" stroke-width="5.0"/>
</g>
<rect x="1126.1" y="496.2" width="142.5" height="17.6" fill="#fff7bc"/>
<text x="1124.6" y="509.7" font-size="16.5" text-anchor="end">0.24</text>
<text x="1270.1" y="509.7" font-size="16.5">0.26</text>
<rect x="1134.7" y="519.3" width="125.4" height="17.6" fill="#fee391"/>
<text x="1133.2" y="532.8" font-size="16.5" text-anchor="end">0.21</text>
<text x="1261.5" y="532.8" font-size="16.5">0.23</text>
<rect x="1137.5" y="542.4" width="114.0" height="17.6" fill="#fec44f"/>
<text x="1130.8" y="555.9" font-size="16.5" text-anchor="end">0.2</text>
<text x="1258.2" y="555.9" font-size="16.5">0.2</text>
<rect x="1137.5" y="565.5" width="108.3" height="17.6" fill="#fe9929"/>
<text x="1130.8" y="579.0" font-size="16.5" text-anchor="end">0.2</text>
<text x="1247.3" y="579.0" font-size="16.5">0.18</text>
<rect x="1140.3" y="588.7" width="105.5" height="17.6" fill="#ec7014"/>
<text x="1138.8" y="602.2" font-size="16.5" text-anchor="end">0.19</text>
<text x="1247.3" y="602.2" font-size="16.5">0.18</text>
<rect x="1143.2" y="611.8" width="99.8" height="17.6" fill="#cc4c02"/>
<text x="1141.7" y="625.3" font-size="16.5" text-anchor="end">0.18</text>
<text x="1244.5" y="625.3" font-size="16.5">0.17</text>
<rect x="1146.0" y="634.9" width="94.0" height="17.6" fill="#993404"/>
<text x="1144.5" y="648.4" font-size="16.5" text-anchor="end">0.17</text>
<text x="1241.6" y="648.4" font-size="16.5">0.16</text>
<line x1="1194.5" y1="487.2" x2="1194.5" y2="660.0999999999999" stroke="#111" stroke-width="1.6"/>
<line x1="1080.5" y1="660.0999999999999" x2="1308.5" y2="660.0999999999999" stroke="#222" stroke-width="1.6"/>
<line x1="1109.0" y1="660.0999999999999" x2="1109.0" y2="665.3" stroke="#111" stroke-width="1.6"/>
<text x="1109.0" y="687.5" font-size="16.5" text-anchor="middle">0.3</text>
<line x1="1194.5" y1="660.0999999999999" x2="1194.5" y2="665.3" stroke="#111" stroke-width="1.6"/>
<text x="1194.5" y="687.5" font-size="16.5" text-anchor="middle">0</text>
<line x1="1280.0" y1="660.0999999999999" x2="1280.0" y2="665.3" stroke="#111" stroke-width="1.6"/>
<text x="1280.0" y="687.5" font-size="16.5" text-anchor="middle">0.3</text>
<text x="1137.3" y="689.0" font-size="22">WAI</text>
<text x="1217.3" y="689.0" font-size="22">SEI</text>
<text x="802.8" y="529.4" font-size="49.5">e</text>
<text x="807.3" y="885.6" font-size="22">SAWYT</text>
<rect x="782.9" y="474.4" width="568.6" height="430.5" fill="none" stroke="#000" stroke-width="2.2"/>
<line x1="773.3" y1="885.6" x2="782.9" y2="885.6" stroke="#000" stroke-width="2"/>
<line x1="773.3" y1="807.2" x2="782.9" y2="807.2" stroke="#000" stroke-width="2"/>
<line x1="773.3" y1="728.8" x2="782.9" y2="728.8" stroke="#000" stroke-width="2"/>
<line x1="773.3" y1="650.3" x2="782.9" y2="650.3" stroke="#000" stroke-width="2"/>
<line x1="773.3" y1="571.9" x2="782.9" y2="571.9" stroke="#000" stroke-width="2"/>
<line x1="773.3" y1="493.5" x2="782.9" y2="493.5" stroke="#000" stroke-width="2"/>
<line x1="807.8" y1="904.9" x2="807.8" y2="914.5" stroke="#000" stroke-width="2"/>
<text x="807.8" y="944.6" font-size="27.8" text-anchor="middle">0</text>
<line x1="928.6" y1="904.9" x2="928.6" y2="914.5" stroke="#000" stroke-width="2"/>
<text x="928.6" y="944.6" font-size="27.8" text-anchor="middle">20</text>
<line x1="1049.5" y1="904.9" x2="1049.5" y2="914.5" stroke="#000" stroke-width="2"/>
<text x="1049.5" y="944.6" font-size="27.8" text-anchor="middle">40</text>
<line x1="1170.3" y1="904.9" x2="1170.3" y2="914.5" stroke="#000" stroke-width="2"/>
<text x="1170.3" y="944.6" font-size="27.8" text-anchor="middle">60</text>
<line x1="1291.2" y1="904.9" x2="1291.2" y2="914.5" stroke="#000" stroke-width="2"/>
<text x="1291.2" y="944.6" font-size="27.8" text-anchor="middle">80</text>
</g>
<g>
<clipPath id="cpf"><rect x="1408.3" y="474.4" width="567.5" height="430.5"/></clipPath>
<g clip-path="url(#cpf)" fill="none" stroke-linejoin="round" stroke-linecap="round">
<path d="M1446.8,613.9 C1450.3,617.6 1463.3,631.4 1468.0,635.8 C1472.7,640.3 1471.5,637.8 1475.1,640.6 C1478.6,643.3 1484.4,648.7 1489.1,652.5 C1493.8,656.2 1498.5,659.4 1503.2,663.2 C1507.9,667.0 1512.6,671.3 1517.2,675.3 C1521.9,679.3 1526.6,683.3 1531.3,687.4 C1536.0,691.5 1540.7,695.9 1545.3,700.1 C1550.0,704.2 1554.7,708.1 1559.4,712.4 C1564.1,716.6 1568.8,721.7 1573.4,725.5 C1578.1,729.2 1582.8,731.6 1587.5,734.7 C1592.1,737.7 1596.8,741.0 1601.5,743.8 C1606.1,746.6 1610.8,749.0 1615.5,751.7 C1620.2,754.3 1624.8,757.1 1629.5,759.6 C1634.2,762.1 1638.9,764.1 1643.5,766.6 C1648.2,769.0 1652.9,771.9 1657.6,774.4 C1662.3,776.9 1666.9,779.2 1671.6,781.6 C1676.3,784.0 1681.1,786.8 1685.8,788.8 C1690.5,790.9 1695.1,792.5 1699.8,794.1 C1704.5,795.7 1709.2,797.4 1713.9,798.7 C1718.6,800.0 1723.3,800.9 1728.0,802.0 C1732.7,803.1 1737.5,804.2 1742.2,805.3 C1746.9,806.3 1751.5,807.3 1756.2,808.4 C1760.9,809.5 1765.6,810.5 1770.3,811.7 C1775.0,812.8 1779.6,814.0 1784.3,815.4 C1789.0,816.8 1793.7,818.3 1798.4,819.8 C1803.0,821.2 1807.7,822.6 1812.4,824.2 C1817.1,825.8 1821.7,827.6 1826.4,829.3 C1831.1,831.1 1835.7,833.0 1840.4,834.7 C1845.1,836.3 1849.7,837.6 1854.4,839.1 C1859.1,840.5 1863.8,841.8 1868.4,843.1 C1873.1,844.5 1877.8,845.7 1882.4,847.4 C1887.1,849.0 1892.9,851.7 1896.4,853.0 C1899.9,854.4 1898.8,852.9 1903.5,855.4 C1908.1,857.8 1921.0,865.9 1924.5,868.0" stroke="#fff7bc" stroke-width="1.3" stroke-opacity="0.65"/>
<path d="M1444.3,611.4h5.0v5.0h-5.0zM1458.5,627.2h5.0v5.0h-5.0zM1472.6,643.8h5.0v5.0h-5.0zM1486.7,651.0h5.0v5.0h-5.0zM1500.7,657.0h5.0v5.0h-5.0zM1514.6,670.8h5.0v5.0h-5.0zM1528.9,680.7h5.0v5.0h-5.0zM1542.8,704.5h5.0v5.0h-5.0zM1557.0,711.5h5.0v5.0h-5.0zM1570.9,720.4h5.0v5.0h-5.0zM1585.0,732.3h5.0v5.0h-5.0zM1599.0,746.1h5.0v5.0h-5.0zM1612.9,750.6h5.0v5.0h-5.0zM1627.0,757.2h5.0v5.0h-5.0zM1641.0,759.7h5.0v5.0h-5.0zM1655.1,772.0h5.0v5.0h-5.0zM1669.2,780.9h5.0v5.0h-5.0zM1683.1,789.7h5.0v5.0h-5.0zM1697.3,793.3h5.0v5.0h-5.0zM1711.6,795.7h5.0v5.0h-5.0zM1725.5,798.2h5.0v5.0h-5.0zM1739.7,803.9h5.0v5.0h-5.0zM1753.6,806.3h5.0v5.0h-5.0zM1767.9,809.6h5.0v5.0h-5.0zM1781.8,811.4h5.0v5.0h-5.0zM1795.9,814.6h5.0v5.0h-5.0zM1809.9,822.6h5.0v5.0h-5.0zM1823.8,828.2h5.0v5.0h-5.0zM1838.0,831.5h5.0v5.0h-5.0zM1851.9,837.2h5.0v5.0h-5.0zM1865.9,841.2h5.0v5.0h-5.0zM1880.0,844.6h5.0v5.0h-5.0zM1893.9,848.7h5.0v5.0h-5.0zM1907.9,852.7h5.0v5.0h-5.0zM1922.0,865.5h5.0v5.0h-5.0z" fill="#fff7bc" stroke="none"/>
<path d="M1446.8,627.6 C1450.3,631.0 1463.3,643.6 1468.0,647.7 C1472.7,651.8 1471.5,649.5 1475.1,652.1 C1478.6,654.6 1484.4,659.6 1489.1,662.8 C1493.8,666.0 1498.5,668.1 1503.2,671.3 C1507.9,674.5 1512.6,678.4 1517.2,682.1 C1521.9,685.8 1526.6,689.7 1531.3,693.6 C1536.0,697.4 1540.7,701.3 1545.3,705.0 C1550.0,708.8 1554.7,712.3 1559.4,716.1 C1564.1,719.9 1568.8,724.7 1573.4,728.0 C1578.1,731.3 1582.8,733.3 1587.5,735.9 C1592.1,738.5 1596.8,741.3 1601.5,743.8 C1606.1,746.3 1610.8,748.5 1615.5,750.8 C1620.2,753.0 1624.8,755.2 1629.5,757.5 C1634.2,759.8 1638.9,761.9 1643.5,764.4 C1648.2,766.9 1652.9,770.0 1657.6,772.5 C1662.3,775.1 1666.9,777.5 1671.6,779.9 C1676.3,782.4 1681.1,785.0 1685.8,787.2 C1690.5,789.4 1695.1,791.4 1699.8,793.2 C1704.5,795.0 1709.2,796.7 1713.9,798.1 C1718.6,799.5 1723.3,800.5 1728.0,801.6 C1732.7,802.7 1737.5,803.8 1742.2,804.8 C1746.9,805.9 1751.5,806.9 1756.2,807.9 C1760.9,809.0 1765.6,810.0 1770.3,811.2 C1775.0,812.3 1779.6,813.5 1784.3,814.9 C1789.0,816.2 1793.7,817.8 1798.4,819.2 C1803.0,820.7 1807.7,822.0 1812.4,823.6 C1817.1,825.1 1821.7,826.9 1826.4,828.7 C1831.1,830.4 1835.7,832.4 1840.4,834.0 C1845.1,835.6 1849.7,836.9 1854.4,838.3 C1859.1,839.7 1863.8,841.0 1868.4,842.3 C1873.1,843.7 1877.8,844.9 1882.4,846.5 C1887.1,848.2 1892.9,850.8 1896.4,852.1 C1899.9,853.4 1898.8,852.0 1903.5,854.4 C1908.1,856.9 1921.0,864.9 1924.5,867.0" stroke="#fee391" stroke-width="1.3" stroke-opacity="0.65"/>
<path d="M1444.3,625.1h5.0v5.0h-5.0zM1458.5,642.1h5.0v5.0h-5.0zM1472.6,654.8h5.0v5.0h-5.0zM1486.7,658.9h5.0v5.0h-5.0zM1500.7,666.9h5.0v5.0h-5.0zM1514.6,678.8h5.0v5.0h-5.0zM1528.9,684.7h5.0v5.0h-5.0zM1542.8,708.5h5.0v5.0h-5.0zM1557.0,716.4h5.0v5.0h-5.0zM1570.9,724.3h5.0v5.0h-5.0zM1585.0,734.2h5.0v5.0h-5.0zM1599.0,744.1h5.0v5.0h-5.0zM1612.9,748.0h5.0v5.0h-5.0zM1627.0,756.0h5.0v5.0h-5.0zM1641.0,759.0h5.0v5.0h-5.0zM1655.1,767.9h5.0v5.0h-5.0zM1669.2,778.8h5.0v5.0h-5.0zM1683.1,788.5h5.0v5.0h-5.0zM1697.3,793.0h5.0v5.0h-5.0zM1711.6,795.4h5.0v5.0h-5.0zM1725.5,797.8h5.0v5.0h-5.0zM1739.7,803.5h5.0v5.0h-5.0zM1753.6,805.8h5.0v5.0h-5.0zM1767.9,809.1h5.0v5.0h-5.0zM1781.8,810.9h5.0v5.0h-5.0zM1795.9,814.0h5.0v5.0h-5.0zM1809.9,822.0h5.0v5.0h-5.0zM1823.8,827.6h5.0v5.0h-5.0zM1838.0,830.8h5.0v5.0h-5.0zM1851.9,836.5h5.0v5.0h-5.0zM1865.9,840.4h5.0v5.0h-5.0zM1880.0,843.7h5.0v5.0h-5.0zM1893.9,847.8h5.0v5.0h-5.0zM1907.9,851.7h5.0v5.0h-5.0zM1922.0,864.5h5.0v5.0h-5.0z" fill="#fee391" stroke="none"/>
<path d="M1446.8,631.4 C1450.3,634.8 1463.3,647.5 1468.0,651.6 C1472.7,655.6 1471.5,653.3 1475.1,655.8 C1478.6,658.3 1484.4,663.2 1489.1,666.4 C1493.8,669.5 1498.5,671.6 1503.2,674.9 C1507.9,678.1 1512.6,682.0 1517.2,685.7 C1521.9,689.4 1526.6,693.2 1531.3,697.0 C1536.0,700.8 1540.7,704.6 1545.3,708.3 C1550.0,712.0 1554.7,715.4 1559.4,719.1 C1564.1,722.8 1568.8,727.4 1573.4,730.6 C1578.1,733.7 1582.8,735.5 1587.5,738.0 C1592.1,740.5 1596.8,743.1 1601.5,745.5 C1606.1,747.9 1610.8,749.9 1615.5,752.1 C1620.2,754.4 1624.8,756.6 1629.5,758.9 C1634.2,761.2 1638.9,763.3 1643.5,765.8 C1648.2,768.2 1652.9,771.2 1657.6,773.7 C1662.3,776.3 1666.9,778.6 1671.6,781.1 C1676.3,783.5 1681.1,786.1 1685.8,788.3 C1690.5,790.5 1695.1,792.3 1699.8,794.1 C1704.5,795.9 1709.2,797.6 1713.9,799.0 C1718.6,800.3 1723.3,801.3 1728.0,802.4 C1732.7,803.5 1737.5,804.5 1742.2,805.6 C1746.9,806.6 1751.5,807.6 1756.2,808.7 C1760.9,809.7 1765.6,810.8 1770.3,811.9 C1775.0,813.1 1779.6,814.3 1784.3,815.6 C1789.0,816.9 1793.7,818.5 1798.4,819.9 C1803.0,821.4 1807.7,822.7 1812.4,824.3 C1817.1,825.8 1821.7,827.6 1826.4,829.4 C1831.1,831.1 1835.7,833.0 1840.4,834.6 C1845.1,836.2 1849.7,837.6 1854.4,839.0 C1859.1,840.4 1863.8,841.6 1868.4,843.0 C1873.1,844.4 1877.8,845.5 1882.4,847.2 C1887.1,848.8 1892.9,851.4 1896.4,852.8 C1899.9,854.1 1898.8,852.6 1903.5,855.0 C1908.1,857.5 1921.0,865.5 1924.5,867.6" stroke="#fec44f" stroke-width="1.3" stroke-opacity="0.65"/>
<path d="M1444.3,628.9h5.0v5.0h-5.0zM1458.5,645.9h5.0v5.0h-5.0zM1472.6,658.6h5.0v5.0h-5.0zM1486.7,662.9h5.0v5.0h-5.0zM1500.7,670.3h5.0v5.0h-5.0zM1514.6,681.8h5.0v5.0h-5.0zM1528.9,688.3h5.0v5.0h-5.0zM1542.8,712.7h5.0v5.0h-5.0zM1557.0,719.6h5.0v5.0h-5.0zM1570.9,726.9h5.0v5.0h-5.0zM1585.0,735.6h5.0v5.0h-5.0zM1599.0,745.7h5.0v5.0h-5.0zM1612.9,749.6h5.0v5.0h-5.0zM1627.0,757.2h5.0v5.0h-5.0zM1641.0,760.0h5.0v5.0h-5.0zM1655.1,769.5h5.0v5.0h-5.0zM1669.2,780.0h5.0v5.0h-5.0zM1683.1,789.5h5.0v5.0h-5.0zM1697.3,793.8h5.0v5.0h-5.0zM1711.6,796.2h5.0v5.0h-5.0zM1725.5,798.6h5.0v5.0h-5.0zM1739.7,804.3h5.0v5.0h-5.0zM1753.6,806.6h5.0v5.0h-5.0zM1767.9,809.9h5.0v5.0h-5.0zM1781.8,811.6h5.0v5.0h-5.0zM1795.9,814.7h5.0v5.0h-5.0zM1809.9,822.7h5.0v5.0h-5.0zM1823.8,828.2h5.0v5.0h-5.0zM1838.0,831.5h5.0v5.0h-5.0zM1851.9,837.1h5.0v5.0h-5.0zM1865.9,841.1h5.0v5.0h-5.0zM1880.0,844.3h5.0v5.0h-5.0zM1893.9,848.4h5.0v5.0h-5.0zM1907.9,852.3h5.0v5.0h-5.0zM1922.0,865.1h5.0v5.0h-5.0z" fill="#fec44f" stroke="none"/>
<path d="M1446.8,635.2 C1450.3,638.6 1463.3,651.3 1468.0,655.4 C1472.7,659.5 1471.5,657.1 1475.1,659.5 C1478.6,662.0 1484.4,666.8 1489.1,669.9 C1493.8,673.1 1498.5,675.2 1503.2,678.4 C1507.9,681.6 1512.6,685.6 1517.2,689.3 C1521.9,692.9 1526.6,696.7 1531.3,700.4 C1536.0,704.2 1540.7,708.0 1545.3,711.6 C1550.0,715.2 1554.7,718.5 1559.4,722.1 C1564.1,725.7 1568.8,730.2 1573.4,733.2 C1578.1,736.2 1582.8,737.7 1587.5,740.0 C1592.1,742.4 1596.8,744.9 1601.5,747.2 C1606.1,749.4 1610.8,751.3 1615.5,753.5 C1620.2,755.7 1624.8,758.0 1629.5,760.3 C1634.2,762.6 1638.9,764.6 1643.5,767.1 C1648.2,769.5 1652.9,772.4 1657.6,774.9 C1662.3,777.5 1666.9,779.8 1671.6,782.2 C1676.3,784.6 1681.1,787.2 1685.8,789.4 C1690.5,791.5 1695.1,793.3 1699.8,795.0 C1704.5,796.8 1709.2,798.4 1713.9,799.8 C1718.6,801.1 1723.3,802.1 1728.0,803.2 C1732.7,804.2 1737.5,805.3 1742.2,806.4 C1746.9,807.4 1751.5,808.4 1756.2,809.4 C1760.9,810.5 1765.6,811.5 1770.3,812.6 C1775.0,813.8 1779.6,815.0 1784.3,816.3 C1789.0,817.7 1793.7,819.2 1798.4,820.6 C1803.0,822.1 1807.7,823.4 1812.4,825.0 C1817.1,826.5 1821.7,828.3 1826.4,830.1 C1831.1,831.8 1835.7,833.7 1840.4,835.3 C1845.1,836.9 1849.7,838.2 1854.4,839.6 C1859.1,841.0 1863.8,842.3 1868.4,843.6 C1873.1,845.0 1877.8,846.2 1882.4,847.8 C1887.1,849.4 1892.9,852.1 1896.4,853.4 C1899.9,854.7 1898.8,853.2 1903.5,855.7 C1908.1,858.1 1921.0,866.1 1924.5,868.2" stroke="#fe9929" stroke-width="1.3" stroke-opacity="0.65"/>
<path d="M1444.3,632.7h5.0v5.0h-5.0zM1458.5,649.6h5.0v5.0h-5.0zM1472.6,662.4h5.0v5.0h-5.0zM1486.7,666.9h5.0v5.0h-5.0zM1500.7,673.6h5.0v5.0h-5.0zM1514.6,684.7h5.0v5.0h-5.0zM1528.9,691.8h5.0v5.0h-5.0zM1542.8,716.8h5.0v5.0h-5.0zM1557.0,722.8h5.0v5.0h-5.0zM1570.9,729.5h5.0v5.0h-5.0zM1585.0,737.0h5.0v5.0h-5.0zM1599.0,747.3h5.0v5.0h-5.0zM1612.9,751.2h5.0v5.0h-5.0zM1627.0,758.4h5.0v5.0h-5.0zM1641.0,761.0h5.0v5.0h-5.0zM1655.1,771.1h5.0v5.0h-5.0zM1669.2,781.2h5.0v5.0h-5.0zM1683.1,790.5h5.0v5.0h-5.0zM1697.3,794.6h5.0v5.0h-5.0zM1711.6,796.9h5.0v5.0h-5.0zM1725.5,799.4h5.0v5.0h-5.0zM1739.7,805.0h5.0v5.0h-5.0zM1753.6,807.3h5.0v5.0h-5.0zM1767.9,810.6h5.0v5.0h-5.0zM1781.8,812.3h5.0v5.0h-5.0zM1795.9,815.5h5.0v5.0h-5.0zM1809.9,823.4h5.0v5.0h-5.0zM1823.8,828.9h5.0v5.0h-5.0zM1838.0,832.2h5.0v5.0h-5.0zM1851.9,837.8h5.0v5.0h-5.0zM1865.9,841.7h5.0v5.0h-5.0zM1880.0,845.0h5.0v5.0h-5.0zM1893.9,849.0h5.0v5.0h-5.0zM1907.9,853.0h5.0v5.0h-5.0zM1922.0,865.7h5.0v5.0h-5.0z" fill="#fe9929" stroke="none"/>
<path d="M1446.8,639.0 C1450.3,642.4 1463.3,655.2 1468.0,659.2 C1472.7,663.3 1471.5,660.9 1475.1,663.3 C1478.6,665.7 1484.4,670.4 1489.1,673.5 C1493.8,676.6 1498.5,678.7 1503.2,681.9 C1507.9,685.1 1512.6,689.2 1517.2,692.9 C1521.9,696.5 1526.6,700.2 1531.3,703.9 C1536.0,707.6 1540.7,711.4 1545.3,714.9 C1550.0,718.4 1554.7,721.6 1559.4,725.0 C1564.1,728.5 1568.8,732.9 1573.4,735.8 C1578.1,738.6 1582.8,739.9 1587.5,742.1 C1592.1,744.3 1596.8,746.7 1601.5,748.8 C1606.1,751.0 1610.8,752.7 1615.5,754.8 C1620.2,757.0 1624.8,759.4 1629.5,761.7 C1634.2,764.0 1638.9,766.0 1643.5,768.4 C1648.2,770.8 1652.9,773.7 1657.6,776.1 C1662.3,778.6 1666.9,780.9 1671.6,783.3 C1676.3,785.7 1681.1,788.3 1685.8,790.4 C1690.5,792.5 1695.1,794.2 1699.8,795.9 C1704.5,797.6 1709.2,799.3 1713.9,800.6 C1718.6,801.9 1723.3,802.8 1728.0,803.9 C1732.7,805.0 1737.5,806.1 1742.2,807.1 C1746.9,808.2 1751.5,809.1 1756.2,810.2 C1760.9,811.2 1765.6,812.2 1770.3,813.4 C1775.0,814.5 1779.6,815.7 1784.3,817.0 C1789.0,818.4 1793.7,819.9 1798.4,821.4 C1803.0,822.8 1807.7,824.1 1812.4,825.7 C1817.1,827.2 1821.7,829.0 1826.4,830.7 C1831.1,832.5 1835.7,834.4 1840.4,836.0 C1845.1,837.6 1849.7,838.9 1854.4,840.3 C1859.1,841.7 1863.8,842.9 1868.4,844.3 C1873.1,845.7 1877.8,846.8 1882.4,848.4 C1887.1,850.1 1892.9,852.7 1896.4,854.0 C1899.9,855.3 1898.8,853.8 1903.5,856.3 C1908.1,858.8 1921.0,866.7 1924.5,868.8" stroke="#ec7014" stroke-width="1.3" stroke-opacity="0.65"/>
<path d="M1444.3,636.5h5.0v5.0h-5.0zM1458.5,653.4h5.0v5.0h-5.0zM1472.6,666.2h5.0v5.0h-5.0zM1486.7,670.8h5.0v5.0h-5.0zM1500.7,677.0h5.0v5.0h-5.0zM1514.6,687.7h5.0v5.0h-5.0zM1528.9,695.4h5.0v5.0h-5.0zM1542.8,721.0h5.0v5.0h-5.0zM1557.0,725.9h5.0v5.0h-5.0zM1570.9,732.0h5.0v5.0h-5.0zM1585.0,738.4h5.0v5.0h-5.0zM1599.0,748.9h5.0v5.0h-5.0zM1612.9,752.8h5.0v5.0h-5.0zM1627.0,759.6h5.0v5.0h-5.0zM1641.0,762.0h5.0v5.0h-5.0zM1655.1,772.7h5.0v5.0h-5.0zM1669.2,782.4h5.0v5.0h-5.0zM1683.1,791.5h5.0v5.0h-5.0zM1697.3,795.4h5.0v5.0h-5.0zM1711.6,797.7h5.0v5.0h-5.0zM1725.5,800.1h5.0v5.0h-5.0zM1739.7,805.8h5.0v5.0h-5.0zM1753.6,808.1h5.0v5.0h-5.0zM1767.9,811.3h5.0v5.0h-5.0zM1781.8,813.0h5.0v5.0h-5.0zM1795.9,816.2h5.0v5.0h-5.0zM1809.9,824.1h5.0v5.0h-5.0zM1823.8,829.6h5.0v5.0h-5.0zM1838.0,832.8h5.0v5.0h-5.0zM1851.9,838.5h5.0v5.0h-5.0zM1865.9,842.4h5.0v5.0h-5.0zM1880.0,845.6h5.0v5.0h-5.0zM1893.9,849.6h5.0v5.0h-5.0zM1907.9,853.6h5.0v5.0h-5.0zM1922.0,866.3h5.0v5.0h-5.0z" fill="#ec7014" stroke="none"/>
<path d="M1446.8,642.8 C1450.3,646.2 1463.3,659.0 1468.0,663.1 C1472.7,667.1 1471.5,664.7 1475.1,667.0 C1478.6,669.4 1484.4,674.0 1489.1,677.1 C1493.8,680.2 1498.5,682.2 1503.2,685.4 C1507.9,688.7 1512.6,692.8 1517.2,696.5 C1521.9,700.1 1526.6,703.7 1531.3,707.3 C1536.0,711.0 1540.7,714.7 1545.3,718.2 C1550.0,721.6 1554.7,724.7 1559.4,728.0 C1564.1,731.4 1568.8,735.6 1573.4,738.3 C1578.1,741.0 1582.8,742.2 1587.5,744.2 C1592.1,746.2 1596.8,748.5 1601.5,750.5 C1606.1,752.5 1610.8,754.1 1615.5,756.2 C1620.2,758.3 1624.8,760.8 1629.5,763.1 C1634.2,765.4 1638.9,767.3 1643.5,769.7 C1648.2,772.1 1652.9,774.9 1657.6,777.3 C1662.3,779.8 1666.9,782.1 1671.6,784.4 C1676.3,786.8 1681.1,789.5 1685.8,791.5 C1690.5,793.6 1695.1,795.2 1699.8,796.8 C1704.5,798.5 1709.2,800.1 1713.9,801.4 C1718.6,802.7 1723.3,803.6 1728.0,804.7 C1732.7,805.8 1737.5,806.8 1742.2,807.9 C1746.9,808.9 1751.5,809.9 1756.2,810.9 C1760.9,812.0 1765.6,813.0 1770.3,814.1 C1775.0,815.3 1779.6,816.5 1784.3,817.8 C1789.0,819.1 1793.7,820.6 1798.4,822.1 C1803.0,823.5 1807.7,824.8 1812.4,826.4 C1817.1,827.9 1821.7,829.7 1826.4,831.4 C1831.1,833.1 1835.7,835.1 1840.4,836.7 C1845.1,838.3 1849.7,839.6 1854.4,841.0 C1859.1,842.3 1863.8,843.6 1868.4,844.9 C1873.1,846.3 1877.8,847.5 1882.4,849.1 C1887.1,850.7 1892.9,853.3 1896.4,854.6 C1899.9,855.9 1898.8,854.4 1903.5,856.9 C1908.1,859.4 1921.0,867.3 1924.5,869.4" stroke="#cc4c02" stroke-width="1.3" stroke-opacity="0.65"/>
<path d="M1444.3,640.3h5.0v5.0h-5.0zM1458.5,657.1h5.0v5.0h-5.0zM1472.6,670.0h5.0v5.0h-5.0zM1486.7,674.8h5.0v5.0h-5.0zM1500.7,680.3h5.0v5.0h-5.0zM1514.6,690.6h5.0v5.0h-5.0zM1528.9,698.9h5.0v5.0h-5.0zM1542.8,725.1h5.0v5.0h-5.0zM1557.0,729.1h5.0v5.0h-5.0zM1570.9,734.6h5.0v5.0h-5.0zM1585.0,739.8h5.0v5.0h-5.0zM1599.0,750.5h5.0v5.0h-5.0zM1612.9,754.4h5.0v5.0h-5.0zM1627.0,760.8h5.0v5.0h-5.0zM1641.0,763.0h5.0v5.0h-5.0zM1655.1,774.3h5.0v5.0h-5.0zM1669.2,783.6h5.0v5.0h-5.0zM1683.1,792.5h5.0v5.0h-5.0zM1697.3,796.2h5.0v5.0h-5.0zM1711.6,798.5h5.0v5.0h-5.0zM1725.5,800.9h5.0v5.0h-5.0zM1739.7,806.5h5.0v5.0h-5.0zM1753.6,808.8h5.0v5.0h-5.0zM1767.9,812.1h5.0v5.0h-5.0zM1781.8,813.8h5.0v5.0h-5.0zM1795.9,816.9h5.0v5.0h-5.0zM1809.9,824.8h5.0v5.0h-5.0zM1823.8,830.3h5.0v5.0h-5.0zM1838.0,833.5h5.0v5.0h-5.0zM1851.9,839.1h5.0v5.0h-5.0zM1865.9,843.0h5.0v5.0h-5.0zM1880.0,846.3h5.0v5.0h-5.0zM1893.9,850.3h5.0v5.0h-5.0zM1907.9,854.2h5.0v5.0h-5.0zM1922.0,866.9h5.0v5.0h-5.0z" fill="#cc4c02" stroke="none"/>
<path d="M1446.8,646.6 C1450.3,650.0 1463.3,662.9 1468.0,666.9 C1472.7,670.9 1471.5,668.5 1475.1,670.8 C1478.6,673.1 1484.4,677.6 1489.1,680.7 C1493.8,683.7 1498.5,685.7 1503.2,689.0 C1507.9,692.2 1512.6,696.4 1517.2,700.1 C1521.9,703.7 1526.6,707.2 1531.3,710.8 C1536.0,714.3 1540.7,718.1 1545.3,721.5 C1550.0,724.9 1554.7,727.8 1559.4,731.0 C1564.1,734.2 1568.8,738.4 1573.4,740.9 C1578.1,743.5 1582.8,744.4 1587.5,746.3 C1592.1,748.1 1596.8,750.3 1601.5,752.2 C1606.1,754.1 1610.8,755.5 1615.5,757.6 C1620.2,759.6 1624.8,762.3 1629.5,764.5 C1634.2,766.7 1638.9,768.7 1643.5,771.0 C1648.2,773.4 1652.9,776.1 1657.6,778.5 C1662.3,781.0 1666.9,783.2 1671.6,785.5 C1676.3,787.9 1681.1,790.6 1685.8,792.6 C1690.5,794.6 1695.1,796.1 1699.8,797.8 C1704.5,799.4 1709.2,801.0 1713.9,802.3 C1718.6,803.5 1723.3,804.4 1728.0,805.5 C1732.7,806.5 1737.5,807.6 1742.2,808.6 C1746.9,809.7 1751.5,810.6 1756.2,811.7 C1760.9,812.7 1765.6,813.7 1770.3,814.9 C1775.0,816.0 1779.6,817.2 1784.3,818.5 C1789.0,819.8 1793.7,821.4 1798.4,822.8 C1803.0,824.2 1807.7,825.5 1812.4,827.1 C1817.1,828.6 1821.7,830.4 1826.4,832.1 C1831.1,833.8 1835.7,835.8 1840.4,837.3 C1845.1,838.9 1849.7,840.2 1854.4,841.6 C1859.1,843.0 1863.8,844.2 1868.4,845.6 C1873.1,847.0 1877.8,848.1 1882.4,849.7 C1887.1,851.3 1892.9,854.0 1896.4,855.3 C1899.9,856.6 1898.8,855.1 1903.5,857.5 C1908.1,860.0 1921.0,867.9 1924.5,870.0" stroke="#993404" stroke-width="1.3" stroke-opacity="0.65"/>
<path d="M1444.3,644.1h5.0v5.0h-5.0zM1458.5,660.9h5.0v5.0h-5.0zM1472.6,673.8h5.0v5.0h-5.0zM1486.7,678.8h5.0v5.0h-5.0zM1500.7,683.7h5.0v5.0h-5.0zM1514.6,693.6h5.0v5.0h-5.0zM1528.9,702.5h5.0v5.0h-5.0zM1542.8,729.3h5.0v5.0h-5.0zM1557.0,732.3h5.0v5.0h-5.0zM1570.9,737.2h5.0v5.0h-5.0zM1585.0,741.2h5.0v5.0h-5.0zM1599.0,752.1h5.0v5.0h-5.0zM1612.9,756.0h5.0v5.0h-5.0zM1627.0,762.0h5.0v5.0h-5.0zM1641.0,764.0h5.0v5.0h-5.0zM1655.1,775.9h5.0v5.0h-5.0zM1669.2,784.8h5.0v5.0h-5.0zM1683.1,793.5h5.0v5.0h-5.0zM1697.3,797.0h5.0v5.0h-5.0zM1711.6,799.3h5.0v5.0h-5.0zM1725.5,801.7h5.0v5.0h-5.0zM1739.7,807.3h5.0v5.0h-5.0zM1753.6,809.6h5.0v5.0h-5.0zM1767.9,812.8h5.0v5.0h-5.0zM1781.8,814.5h5.0v5.0h-5.0zM1795.9,817.6h5.0v5.0h-5.0zM1809.9,825.5h5.0v5.0h-5.0zM1823.8,831.0h5.0v5.0h-5.0zM1838.0,834.2h5.0v5.0h-5.0zM1851.9,839.8h5.0v5.0h-5.0zM1865.9,843.7h5.0v5.0h-5.0zM1880.0,846.9h5.0v5.0h-5.0zM1893.9,850.9h5.0v5.0h-5.0zM1907.9,854.8h5.0v5.0h-5.0zM1922.0,867.5h5.0v5.0h-5.0z" fill="#993404" stroke="none"/>
</g>
<rect x="1740.1" y="496.2" width="136.8" height="17.6" fill="#fff7bc"/>
<text x="1738.6" y="509.7" font-size="16.5" text-anchor="end">0.28</text>
<text x="1883.6" y="509.7" font-size="16.5">0.2</text>
<rect x="1740.1" y="519.3" width="136.8" height="17.6" fill="#fee391"/>
<text x="1738.6" y="532.8" font-size="16.5" text-anchor="end">0.28</text>
<text x="1883.6" y="532.8" font-size="16.5">0.2</text>
<rect x="1737.2" y="542.4" width="139.7" height="17.6" fill="#fec44f"/>
<text x="1735.8" y="555.9" font-size="16.5" text-anchor="end">0.29</text>
<text x="1883.6" y="555.9" font-size="16.5">0.2</text>
<rect x="1740.1" y="565.5" width="136.8" height="17.6" fill="#fe9929"/>
<text x="1738.6" y="579.0" font-size="16.5" text-anchor="end">0.28</text>
<text x="1883.6" y="579.0" font-size="16.5">0.2</text>
<rect x="1740.1" y="588.7" width="134.0" height="17.6" fill="#ec7014"/>
<text x="1738.6" y="602.2" font-size="16.5" text-anchor="end">0.28</text>
<text x="1875.6" y="602.2" font-size="16.5">0.19</text>
<rect x="1740.1" y="611.8" width="134.0" height="17.6" fill="#cc4c02"/>
<text x="1738.6" y="625.3" font-size="16.5" text-anchor="end">0.28</text>
<text x="1875.6" y="625.3" font-size="16.5">0.19</text>
<rect x="1740.1" y="634.9" width="134.0" height="17.6" fill="#993404"/>
<text x="1738.6" y="648.4" font-size="16.5" text-anchor="end">0.28</text>
<text x="1875.6" y="648.4" font-size="16.5">0.19</text>
<line x1="1819.9" y1="487.2" x2="1819.9" y2="660.0999999999999" stroke="#111" stroke-width="1.6"/>
<line x1="1705.9" y1="660.0999999999999" x2="1933.9" y2="660.0999999999999" stroke="#222" stroke-width="1.6"/>
<line x1="1734.4" y1="660.0999999999999" x2="1734.4" y2="665.3" stroke="#111" stroke-width="1.6"/>
<text x="1734.4" y="687.5" font-size="16.5" text-anchor="middle">0.3</text>
<line x1="1819.9" y1="660.0999999999999" x2="1819.9" y2="665.3" stroke="#111" stroke-width="1.6"/>
<text x="1819.9" y="687.5" font-size="16.5" text-anchor="middle">0</text>
<line x1="1905.4" y1="660.0999999999999" x2="1905.4" y2="665.3" stroke="#111" stroke-width="1.6"/>
<text x="1905.4" y="687.5" font-size="16.5" text-anchor="middle">0.3</text>
<text x="1762.7" y="689.0" font-size="22">WAI</text>
<text x="1842.7" y="689.0" font-size="22">SEI</text>
<text x="1436.9" y="529.2" font-size="49.5">f</text>
<text x="1432.7" y="885.6" font-size="22">IWWYT_SA</text>
<rect x="1408.3" y="474.4" width="567.5" height="430.5" fill="none" stroke="#000" stroke-width="2.2"/>
<line x1="1398.7" y1="885.6" x2="1408.3" y2="885.6" stroke="#000" stroke-width="2"/>
<line x1="1398.7" y1="807.2" x2="1408.3" y2="807.2" stroke="#000" stroke-width="2"/>
<line x1="1398.7" y1="728.8" x2="1408.3" y2="728.8" stroke="#000" stroke-width="2"/>
<line x1="1398.7" y1="650.3" x2="1408.3" y2="650.3" stroke="#000" stroke-width="2"/>
<line x1="1398.7" y1="571.9" x2="1408.3" y2="571.9" stroke="#000" stroke-width="2"/>
<line x1="1398.7" y1="493.5" x2="1408.3" y2="493.5" stroke="#000" stroke-width="2"/>
<line x1="1433.2" y1="904.9" x2="1433.2" y2="914.5" stroke="#000" stroke-width="2"/>
<text x="1433.2" y="944.6" font-size="27.8" text-anchor="middle">0</text>
<line x1="1554.0" y1="904.9" x2="1554.0" y2="914.5" stroke="#000" stroke-width="2"/>
<text x="1554.0" y="944.6" font-size="27.8" text-anchor="middle">20</text>
<line x1="1674.9" y1="904.9" x2="1674.9" y2="914.5" stroke="#000" stroke-width="2"/>
<text x="1674.9" y="944.6" font-size="27.8" text-anchor="middle">40</text>
<line x1="1795.7" y1="904.9" x2="1795.7" y2="914.5" stroke="#000" stroke-width="2"/>
<text x="1795.7" y="944.6" font-size="27.8" text-anchor="middle">60</text>
<line x1="1916.6" y1="904.9" x2="1916.6" y2="914.5" stroke="#000" stroke-width="2"/>
<text x="1916.6" y="944.6" font-size="27.8" text-anchor="middle">80</text>
</g>
<text x="674.2" y="1002.1" font-size="32.7">Wide Adaptation (WA) across the genotypes (%)</text>
<text transform="translate(25.3,774.3) rotate(-90)" font-size="32.7">Selection Efficiency (SE) for genotypes</text>
<text transform="translate(61.7,701.5) rotate(-90)" font-size="32.7">with the corresponding WA (%)</text>
<text x="2021.8" y="32.7" font-size="27.3">Warming</text>
<circle cx="2021.4" cy="63.0" r="10.1" fill="#fff7bc"/>
<text y="71.1" font-size="27.8"><tspan x="2069.8" letter-spacing="-0.6">0.26</tspan><tspan x="2133.0" y="61.6" font-size="19.5">∘</tspan><tspan x="2149.5" y="71.1">C</tspan></text>
<circle cx="2021.4" cy="102.5" r="10.1" fill="#fee391"/>
<text y="110.6" font-size="27.8"><tspan x="2069.8" letter-spacing="-0.6">1</tspan><tspan x="2091.3" y="101.1" font-size="19.5">∘</tspan><tspan x="2107.0" y="110.6">C</tspan></text>
<circle cx="2021.4" cy="142.0" r="10.1" fill="#fec44f"/>
<text y="150.1" font-size="27.8"><tspan x="2069.8" letter-spacing="-0.6">2</tspan><tspan x="2091.3" y="140.6" font-size="19.5">∘</tspan><tspan x="2107.0" y="150.1">C</tspan></text>
<circle cx="2021.4" cy="181.5" r="10.1" fill="#fe9929"/>
<text y="189.6" font-size="27.8"><tspan x="2069.8" letter-spacing="-0.6">3</tspan><tspan x="2091.3" y="180.1" font-size="19.5">∘</tspan><tspan x="2107.0" y="189.6">C</tspan></text>
<circle cx="2021.4" cy="221.0" r="10.1" fill="#ec7014"/>
<text y="229.1" font-size="27.8"><tspan x="2069.8" letter-spacing="-0.6">4</tspan><tspan x="2091.3" y="219.6" font-size="19.5">∘</tspan><tspan x="2107.0" y="229.1">C</tspan></text>
<circle cx="2021.4" cy="260.5" r="10.1" fill="#cc4c02"/>
<text y="268.6" font-size="27.8"><tspan x="2069.8" letter-spacing="-0.6">5</tspan><tspan x="2091.3" y="259.1" font-size="19.5">∘</tspan><tspan x="2107.0" y="268.6">C</tspan></text>
<circle cx="2021.4" cy="300.0" r="10.1" fill="#993404"/>
<text y="308.1" font-size="27.8"><tspan x="2069.8" letter-spacing="-0.6">6</tspan><tspan x="2091.3" y="298.6" font-size="19.5">∘</tspan><tspan x="2107.0" y="308.1">C</tspan></text>
</svg>
</body></html>
